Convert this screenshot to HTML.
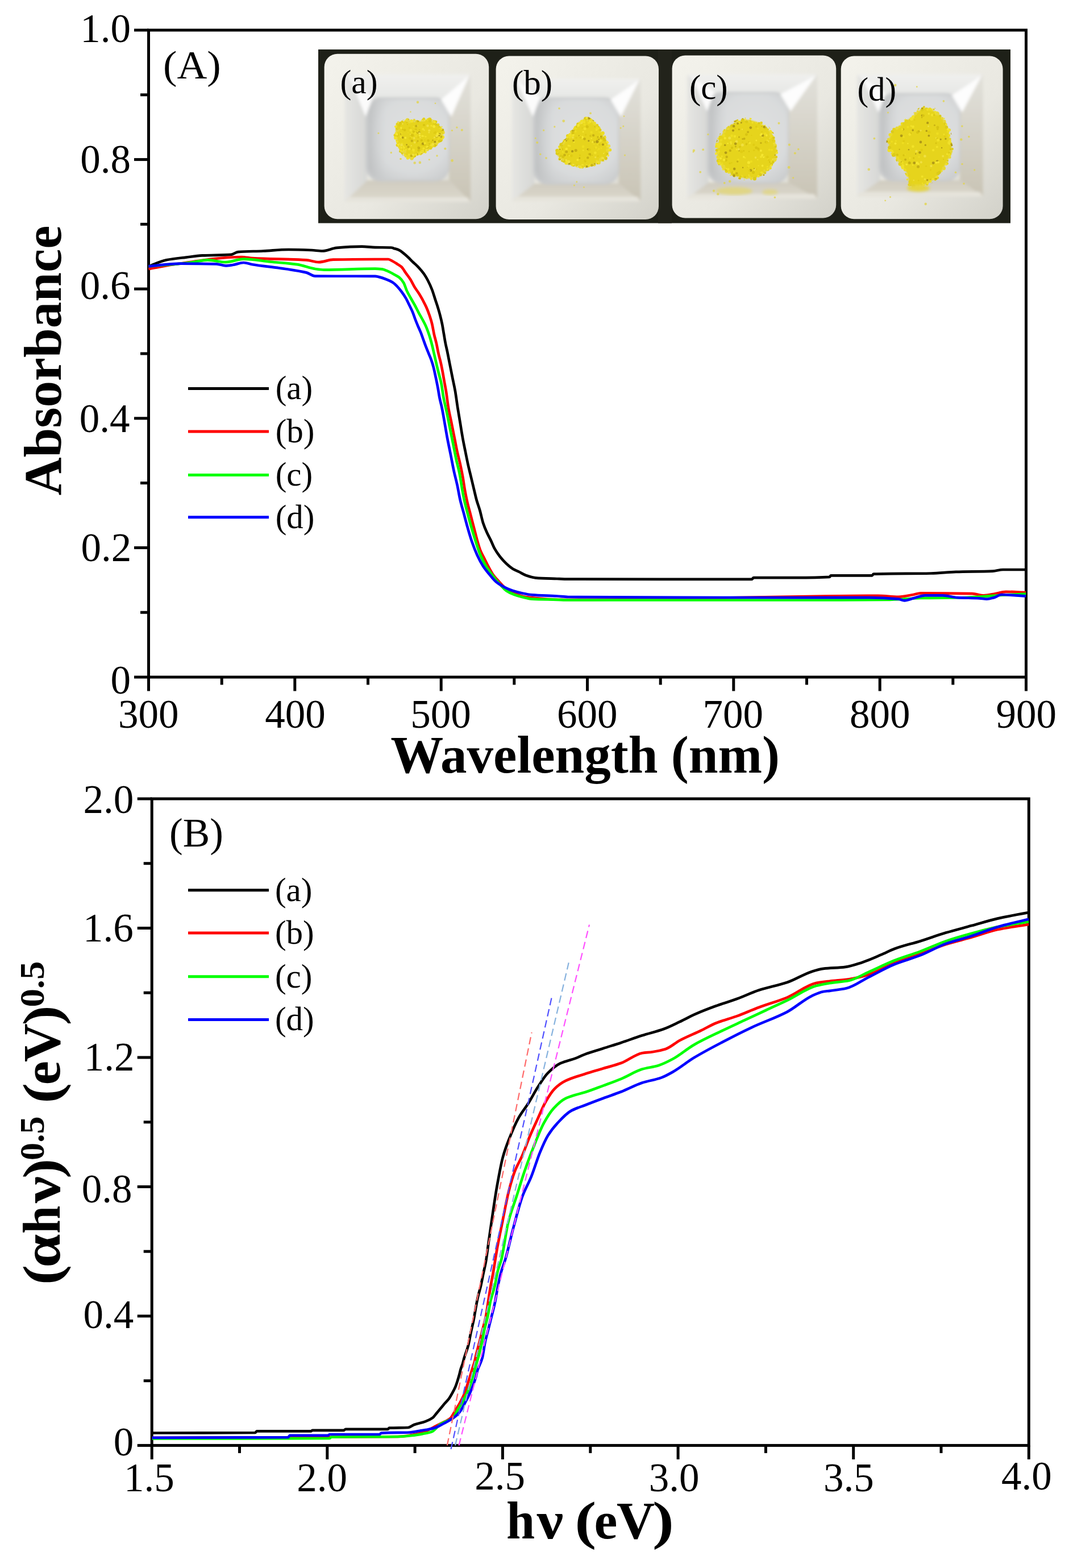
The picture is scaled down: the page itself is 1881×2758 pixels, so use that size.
<!DOCTYPE html>
<html><head><meta charset="utf-8"><style>
html,body{margin:0;padding:0;background:#fff;}
svg{display:block;}
text{font-family:"Liberation Serif","Times New Roman",serif;fill:#000;}
</style></head><body>
<svg width="1881" height="2758" viewBox="0 0 1881 2758">
<g id="photo">
<rect x="560" y="87" width="1218" height="305.5" fill="#1e2018"/>
<rect x="1158" y="87" width="24" height="305.5" fill="#22231b"/>
<defs>
<linearGradient id="rimg" x1="0" y1="0" x2="1" y2="1"><stop offset="0" stop-color="#f4f3ec"/><stop offset="0.6" stop-color="#e9e8e1"/><stop offset="1" stop-color="#d2d1c9"/></linearGradient>
<linearGradient id="lwall" x1="0" y1="0" x2="1" y2="0"><stop offset="0" stop-color="#e6e6e3"/><stop offset="1" stop-color="#d6d7d5"/></linearGradient>
<linearGradient id="rwall" x1="0" y1="0" x2="0" y2="1"><stop offset="0" stop-color="#e2e1db"/><stop offset="1" stop-color="#c9c4b5"/></linearGradient>
<linearGradient id="bwall" x1="0" y1="0" x2="0" y2="1"><stop offset="0" stop-color="#d0ccc0"/><stop offset="1" stop-color="#dcd8cc"/></linearGradient>
<linearGradient id="twall" x1="0" y1="0" x2="0" y2="1"><stop offset="0" stop-color="#f0f0ee"/><stop offset="1" stop-color="#e6e7e5"/></linearGradient>
<radialGradient id="floorg" cx="0.55" cy="0.45" r="0.65"><stop offset="0" stop-color="#dfe1e1"/><stop offset="0.7" stop-color="#d9dbdc"/><stop offset="1" stop-color="#cbcdce"/></radialGradient>
<linearGradient id="floorsh" x1="0" y1="0" x2="1" y2="0"><stop offset="0" stop-color="#b9bbbc" stop-opacity="0.7"/><stop offset="0.22" stop-color="#c8cacb" stop-opacity="0"/></linearGradient>
<filter id="blur1" x="-10%" y="-10%" width="120%" height="120%"><feGaussianBlur stdDeviation="2.5"/></filter>
<filter id="blur2" x="-10%" y="-10%" width="120%" height="120%"><feGaussianBlur stdDeviation="0.9"/></filter>
</defs>
<rect x="570.6" y="94.7" width="289.6" height="290.6" rx="23" fill="url(#rimg)"/>
<g filter="url(#blur1)"><polygon points="606.5,130.7 828,130.7 790.1,173.3 646.3,173.3" fill="url(#twall)"/><polygon points="606.5,130.7 646.3,173.3 646.3,317.1 606.5,355" fill="url(#lwall)"/><polygon points="828,130.7 828,355 790.1,317.1 790.1,173.3" fill="url(#rwall)"/><polygon points="606.5,355 646.3,317.1 790.1,317.1 828,355" fill="url(#bwall)"/><rect x="643.3" y="171.3" width="147.8" height="147.8" rx="26" fill="#c9cbcc"/><rect x="648.3" y="174.3" width="140.8" height="141.8" rx="24" fill="url(#floorg)"/><rect x="648.3" y="174.3" width="140.8" height="141.8" rx="24" fill="url(#floorsh)"/><polygon points="614.5,134.7 656.3,171.3 643.3,205.3" fill="#fbfbfb"/><polygon points="826,132.7 776.1,175.3 794.1,205.3" fill="#fdfdfd"/><polygon points="612.5,347 822,347 828,355 606.5,355" fill="#e6e4dc"/></g>
<rect x="872.6" y="98.5" width="286.4" height="287.5" rx="23" fill="url(#rimg)"/>
<g filter="url(#blur1)"><polygon points="901,138.3 1127.2,138.3 1088.4,173.3 940.7,173.3" fill="url(#twall)"/><polygon points="901,138.3 940.7,173.3 940.7,322.8 901,354" fill="url(#lwall)"/><polygon points="1127.2,138.3 1127.2,354 1088.4,322.8 1088.4,173.3" fill="url(#rwall)"/><polygon points="901,354 940.7,322.8 1088.4,322.8 1127.2,354" fill="url(#bwall)"/><rect x="937.7" y="171.3" width="151.7" height="153.5" rx="26" fill="#c9cbcc"/><rect x="942.7" y="174.3" width="144.7" height="147.5" rx="24" fill="url(#floorg)"/><rect x="942.7" y="174.3" width="144.7" height="147.5" rx="24" fill="url(#floorsh)"/><polygon points="909,142.3 950.7,171.3 937.7,205.3" fill="#fbfbfb"/><polygon points="1125.2,140.3 1074.4,175.3 1092.4,205.3" fill="#fdfdfd"/><polygon points="907,346 1121.2,346 1127.2,354 901,354" fill="#e6e4dc"/></g>
<rect x="1182.6" y="97.6" width="288.6" height="285.8" rx="23" fill="url(#rimg)"/>
<g filter="url(#blur1)"><polygon points="1209,130.7 1438,130.7 1387,163.8 1247,163.8" fill="url(#twall)"/><polygon points="1209,130.7 1247,163.8 1247,321 1209,349.3" fill="url(#lwall)"/><polygon points="1438,130.7 1438,349.3 1387,321 1387,163.8" fill="url(#rwall)"/><polygon points="1209,349.3 1247,321 1387,321 1438,349.3" fill="url(#bwall)"/><rect x="1244" y="161.8" width="144" height="161.2" rx="26" fill="#c9cbcc"/><rect x="1249" y="164.8" width="137" height="155.2" rx="24" fill="url(#floorg)"/><rect x="1249" y="164.8" width="137" height="155.2" rx="24" fill="url(#floorsh)"/><polygon points="1217,134.7 1257,161.8 1244,195.8" fill="#fbfbfb"/><polygon points="1436,132.7 1373,165.8 1391,195.8" fill="#fdfdfd"/><polygon points="1215,341.3 1432,341.3 1438,349.3 1209,349.3" fill="#e6e4dc"/></g>
<rect x="1479.7" y="98.5" width="284.9" height="286.8" rx="23" fill="url(#rimg)"/>
<g filter="url(#blur1)"><polygon points="1508,130.7 1729.6,130.7 1688.9,165.7 1548.8,165.7" fill="url(#twall)"/><polygon points="1508,130.7 1548.8,165.7 1548.8,317 1508,345.5" fill="url(#lwall)"/><polygon points="1729.6,130.7 1729.6,345.5 1688.9,317 1688.9,165.7" fill="url(#rwall)"/><polygon points="1508,345.5 1548.8,317 1688.9,317 1729.6,345.5" fill="url(#bwall)"/><rect x="1545.8" y="163.7" width="144.1" height="155.3" rx="26" fill="#c9cbcc"/><rect x="1550.8" y="166.7" width="137.1" height="149.3" rx="24" fill="url(#floorg)"/><rect x="1550.8" y="166.7" width="137.1" height="149.3" rx="24" fill="url(#floorsh)"/><polygon points="1516,134.7 1558.8,163.7 1545.8,197.7" fill="#fbfbfb"/><polygon points="1727.6,132.7 1674.9,167.7 1692.9,197.7" fill="#fdfdfd"/><polygon points="1514,337.5 1723.6,337.5 1729.6,345.5 1508,345.5" fill="#e6e4dc"/></g>
</g>
<defs><clipPath id="pc0"><path d="M696 217 C699.3 212.3 707.5 210.8 714 210 C720.5 209.2 728.7 212.3 735 212 C741.3 211.7 746.5 207.7 752 208 C757.5 208.3 763 210.7 768 214 C773 217.3 780 223 782 228 C784 233 782.3 239.3 780 244 C777.7 248.7 772.3 252.5 768 256 C763.7 259.5 759.5 262 754 265 C748.5 268 740.7 271.5 735 274 C729.3 276.5 724.5 280.2 720 280 C715.5 279.8 711.3 276.8 708 273 C704.7 269.2 702.3 262.8 700 257 C697.7 251.2 694.7 244.7 694 238 C693.3 231.3 692.7 221.7 696 217Z"/></clipPath><clipPath id="pc1"><path d="M1031 205 C1035.5 204.7 1040.5 208.2 1045 212 C1049.5 215.8 1054.2 222.5 1058 228 C1061.8 233.5 1065.2 239.3 1068 245 C1070.8 250.7 1075 256.2 1075 262 C1075 267.8 1072.2 275.3 1068 280 C1063.8 284.7 1057.2 287.3 1050 290 C1042.8 292.7 1033.3 296 1025 296 C1016.7 296 1007.2 292.7 1000 290 C992.8 287.3 985.8 283.7 982 280 C978.2 276.3 975.7 273 977 268 C978.3 263 985.3 256.3 990 250 C994.7 243.7 1000.3 236 1005 230 C1009.7 224 1013.7 218.2 1018 214 C1022.3 209.8 1026.5 205.3 1031 205Z"/></clipPath><clipPath id="pc2"><path d="M1310 207 C1318.8 206 1327.5 209 1335 212 C1342.5 215 1349.8 219.5 1355 225 C1360.2 230.5 1363.5 237.8 1366 245 C1368.5 252.2 1370.7 260.5 1370 268 C1369.3 275.5 1365.7 283.5 1362 290 C1358.3 296.5 1354.2 302.5 1348 307 C1341.8 311.5 1333 315.7 1325 317 C1317 318.3 1307.8 317 1300 315 C1292.2 313 1284.3 309.7 1278 305 C1271.7 300.3 1265.3 294.2 1262 287 C1258.7 279.8 1257.5 270.2 1258 262 C1258.5 253.8 1261 245.3 1265 238 C1269 230.7 1274.5 223.2 1282 218 C1289.5 212.8 1301.2 208 1310 207Z"/></clipPath><clipPath id="pc3"><path d="M1625 185 C1631.7 183.3 1638.8 186.7 1645 190 C1651.2 193.3 1657.5 199.2 1662 205 C1666.5 210.8 1669.7 217.5 1672 225 C1674.3 232.5 1674.8 242.8 1676 250 C1677.2 257.2 1680 262.2 1679 268 C1678 273.8 1672.8 279.7 1670 285 C1667.2 290.3 1665.3 295 1662 300 C1658.7 305 1654.5 310.8 1650 315 C1645.5 319.2 1640.8 321.5 1635 325 C1629.2 328.5 1620.8 335.2 1615 336 C1609.2 336.8 1603.3 334.3 1600 330 C1596.7 325.7 1597.5 315.8 1595 310 C1592.5 304.2 1588.3 300 1585 295 C1581.7 290 1578.8 285.5 1575 280 C1571.2 274.5 1564.5 267.8 1562 262 C1559.5 256.2 1559 250.7 1560 245 C1561 239.3 1563.8 233 1568 228 C1572.2 223 1578.8 219.7 1585 215 C1591.2 210.3 1598.3 205 1605 200 C1611.7 195 1618.3 186.7 1625 185Z"/></clipPath></defs>
<path d="M698.8 218.7 C701.9 214.3 709.5 213 715.5 212.2 C721.6 211.4 729.2 214.3 735.1 214 C741 213.7 745.8 210 750.9 210.3 C756 210.6 761.1 212.8 765.8 215.9 C770.4 219 776.9 224.3 778.8 228.9 C780.6 233.6 779.1 239.5 776.9 243.8 C774.8 248.1 769.8 251.7 765.8 255 C761.7 258.2 757.9 260.5 752.8 263.3 C747.6 266.1 740.4 269.4 735.1 271.7 C729.8 274 725.3 277.4 721.1 277.3 C716.9 277.1 713.1 274.3 710 270.8 C706.9 267.2 704.7 261.3 702.5 255.9 C700.4 250.5 697.6 244.4 697 238.2 C696.3 232 695.7 223 698.8 218.7Z" fill="#e6d41a" filter="url(#blur2)"/>
<g><circle cx="699.2" cy="218.3" r="2.6" fill="#e4d21c"/><circle cx="701.4" cy="217.6" r="2.1" fill="#e4d21c"/><circle cx="702" cy="216.5" r="1.7" fill="#f0e02a"/><circle cx="704.8" cy="217.3" r="2.7" fill="#dccb18"/><circle cx="709.4" cy="216" r="2.1" fill="#e4d21c"/><circle cx="713.5" cy="214.1" r="1.8" fill="#e4d21c"/><circle cx="717.7" cy="212.8" r="1.7" fill="#ecdc22"/><circle cx="717" cy="210.9" r="3.2" fill="#e8d836"/><circle cx="720.6" cy="214.7" r="2.2" fill="#e8d836"/><circle cx="723.9" cy="212.9" r="2.8" fill="#f0e02a"/><circle cx="728.8" cy="211.6" r="2" fill="#dccb18"/><circle cx="728.8" cy="211.2" r="2.1" fill="#e8d836"/><circle cx="733.8" cy="214" r="3.1" fill="#e4d21c"/><circle cx="735.4" cy="216.1" r="3.2" fill="#e4d21c"/><circle cx="736.9" cy="214.5" r="1.8" fill="#e4d21c"/><circle cx="744.1" cy="210.9" r="2.2" fill="#dccb18"/><circle cx="744.3" cy="212.7" r="1.9" fill="#e8d836"/><circle cx="745.8" cy="209.2" r="2.4" fill="#e4d21c"/><circle cx="751.1" cy="212.7" r="1.9" fill="#e4d21c"/><circle cx="753" cy="210.4" r="2.4" fill="#ecdc22"/><circle cx="756.1" cy="209.9" r="3.2" fill="#e4d21c"/><circle cx="756.6" cy="213" r="2.6" fill="#dccb18"/><circle cx="763.5" cy="214.3" r="3.2" fill="#e8d836"/><circle cx="766.7" cy="214.2" r="2.5" fill="#dccb18"/><circle cx="764.5" cy="216.8" r="2.4" fill="#dccb18"/><circle cx="767" cy="219.1" r="2.2" fill="#dccb18"/><circle cx="770.8" cy="219.3" r="2.4" fill="#dccb18"/><circle cx="774.6" cy="224.9" r="2.4" fill="#ecdc22"/><circle cx="772.8" cy="223.1" r="1.8" fill="#dccb18"/><circle cx="778.8" cy="228.8" r="1.9" fill="#dccb18"/><circle cx="780.1" cy="231.7" r="2.2" fill="#f0e02a"/><circle cx="780.3" cy="233.5" r="2.4" fill="#e8d836"/><circle cx="780" cy="233.7" r="2" fill="#e8d836"/><circle cx="775.3" cy="236.8" r="3.2" fill="#e8d836"/><circle cx="778.9" cy="241.2" r="3.1" fill="#f0e02a"/><circle cx="776.3" cy="245.9" r="2.9" fill="#ecdc22"/><circle cx="772.3" cy="248.3" r="3" fill="#ecdc22"/><circle cx="774.9" cy="247.2" r="2.8" fill="#e4d21c"/><circle cx="769.7" cy="249.9" r="3" fill="#f0e02a"/><circle cx="766.7" cy="252.9" r="2.4" fill="#ecdc22"/><circle cx="767.1" cy="253.6" r="3.3" fill="#e8d836"/><circle cx="764.9" cy="256" r="2.9" fill="#e4d21c"/><circle cx="760.1" cy="257.2" r="2.7" fill="#ecdc22"/><circle cx="757.3" cy="260" r="3.2" fill="#e4d21c"/><circle cx="754.1" cy="260.7" r="1.8" fill="#ecdc22"/><circle cx="753" cy="262" r="2.4" fill="#e4d21c"/><circle cx="751.9" cy="263" r="2.9" fill="#e8d836"/><circle cx="748.5" cy="267.4" r="2.3" fill="#f0e02a"/><circle cx="745.1" cy="265.5" r="3.2" fill="#dccb18"/><circle cx="743.6" cy="265.8" r="2.6" fill="#f0e02a"/><circle cx="742" cy="268.6" r="3" fill="#e8d836"/><circle cx="740.3" cy="271.5" r="1.7" fill="#f0e02a"/><circle cx="732.8" cy="270.8" r="2.2" fill="#dccb18"/><circle cx="733" cy="271.7" r="1.9" fill="#e4d21c"/><circle cx="728.7" cy="274.1" r="3.1" fill="#ecdc22"/><circle cx="725.5" cy="276.2" r="3.3" fill="#e4d21c"/><circle cx="724.5" cy="278.5" r="3.2" fill="#e8d836"/><circle cx="719" cy="275.7" r="3.1" fill="#e8d836"/><circle cx="717.3" cy="278.1" r="2.6" fill="#f0e02a"/><circle cx="718.2" cy="275.3" r="2.6" fill="#ecdc22"/><circle cx="714.1" cy="274.8" r="2.3" fill="#e8d836"/><circle cx="711.9" cy="272.9" r="1.8" fill="#f0e02a"/><circle cx="711.8" cy="267.1" r="3.3" fill="#e8d836"/><circle cx="709.5" cy="264.7" r="2.4" fill="#f0e02a"/><circle cx="704.4" cy="266.2" r="2.4" fill="#dccb18"/><circle cx="705.9" cy="262.6" r="3.4" fill="#e4d21c"/><circle cx="703.3" cy="258.4" r="3.1" fill="#e8d836"/><circle cx="702.7" cy="255.6" r="1.8" fill="#e4d21c"/><circle cx="699.4" cy="255.2" r="2.8" fill="#e4d21c"/><circle cx="701.2" cy="252.9" r="3" fill="#f0e02a"/><circle cx="700.2" cy="250" r="2.7" fill="#e4d21c"/><circle cx="698.1" cy="247.2" r="1.7" fill="#e4d21c"/><circle cx="696.2" cy="242.4" r="3.1" fill="#f0e02a"/><circle cx="699.5" cy="237" r="2.7" fill="#dccb18"/><circle cx="695" cy="237.7" r="2.5" fill="#e4d21c"/><circle cx="696.9" cy="234.7" r="2.4" fill="#f0e02a"/><circle cx="699.6" cy="228.8" r="3.2" fill="#e8d836"/><circle cx="699" cy="225.8" r="2.8" fill="#dccb18"/><circle cx="700.6" cy="224.1" r="3.1" fill="#e4d21c"/><circle cx="696.6" cy="222.7" r="2.2" fill="#f0e02a"/></g>
<g clip-path="url(#pc0)"><circle cx="741" cy="269.2" r="1.2" fill="#f0e040"/><circle cx="747.5" cy="246.3" r="1" fill="#e0cc14"/><circle cx="778.8" cy="235.8" r="1.4" fill="#f0e040"/><circle cx="702.8" cy="273.2" r="1.9" fill="#eedd20"/><circle cx="725.3" cy="277.8" r="1.3" fill="#f2e228"/><circle cx="700.6" cy="266.4" r="1" fill="#b09a18"/><circle cx="723.8" cy="274.1" r="2.2" fill="#c8b214"/><circle cx="722.6" cy="242.3" r="2.3" fill="#f2e228"/><circle cx="712.1" cy="228.8" r="2.3" fill="#d8c412"/><circle cx="773.7" cy="235.8" r="1.9" fill="#b09a18"/><circle cx="770.9" cy="262.8" r="1.2" fill="#f5e630"/><circle cx="696.4" cy="212" r="2.2" fill="#e0cc14"/><circle cx="705" cy="235.7" r="1" fill="#b09a18"/><circle cx="759" cy="221.2" r="1.7" fill="#f2e228"/><circle cx="742.5" cy="211.8" r="1.6" fill="#f0e040"/><circle cx="734.1" cy="221.4" r="1.6" fill="#f0e040"/><circle cx="737" cy="259.1" r="1.6" fill="#f5e630"/><circle cx="706.2" cy="226.2" r="1.1" fill="#f2e228"/><circle cx="707.5" cy="213.7" r="1.8" fill="#e0cc14"/><circle cx="761.5" cy="246.7" r="1.5" fill="#c8b214"/><circle cx="765.3" cy="249.5" r="2" fill="#b09a18"/><circle cx="771.1" cy="218.5" r="1.1" fill="#f2e228"/><circle cx="747.6" cy="254.5" r="1.9" fill="#d8c412"/><circle cx="706.9" cy="269.9" r="2.3" fill="#e0cc14"/><circle cx="769.5" cy="234.9" r="2.1" fill="#f5e630"/><circle cx="736" cy="241.4" r="1.7" fill="#e0cc14"/><circle cx="696.4" cy="251.9" r="1.7" fill="#e0cc14"/><circle cx="723.8" cy="256.2" r="1.2" fill="#f0e040"/><circle cx="746" cy="220" r="2.1" fill="#d8c412"/><circle cx="737.5" cy="233.4" r="2.5" fill="#b09a18"/><circle cx="707.1" cy="254.2" r="1.5" fill="#c8b214"/><circle cx="705.4" cy="241" r="2.1" fill="#f2e228"/><circle cx="727.5" cy="263.9" r="2.3" fill="#f2e228"/><circle cx="705.2" cy="279.4" r="2.5" fill="#b09a18"/><circle cx="713.5" cy="242.4" r="1.9" fill="#f5e630"/><circle cx="703.1" cy="277.1" r="2.3" fill="#b09a18"/><circle cx="721.4" cy="262" r="2.2" fill="#b09a18"/><circle cx="741.8" cy="246.9" r="2.1" fill="#d8c412"/><circle cx="757.3" cy="268.4" r="1.3" fill="#f0e040"/><circle cx="754.4" cy="266.9" r="1.6" fill="#d8c412"/><circle cx="780.9" cy="246.5" r="2.2" fill="#e0cc14"/><circle cx="700.3" cy="236.5" r="1.1" fill="#d8c412"/><circle cx="776.5" cy="240.7" r="2.1" fill="#c8b214"/><circle cx="727.8" cy="223" r="1.5" fill="#eedd20"/><circle cx="707.6" cy="242.9" r="1.6" fill="#f2e228"/><circle cx="722.7" cy="229.1" r="2.4" fill="#f2e228"/><circle cx="729.8" cy="228.4" r="1.3" fill="#f5e630"/><circle cx="772.4" cy="238.1" r="2.6" fill="#f5e630"/><circle cx="734.7" cy="271.2" r="1.1" fill="#b09a18"/><circle cx="740.8" cy="276.7" r="1.8" fill="#eedd20"/><circle cx="744.2" cy="272.7" r="1.1" fill="#f5e630"/><circle cx="760.3" cy="269.3" r="2.3" fill="#b09a18"/><circle cx="772.9" cy="240" r="1.7" fill="#f0e040"/><circle cx="755.2" cy="229.5" r="2.1" fill="#f0e040"/><circle cx="708.7" cy="242" r="1.9" fill="#b09a18"/><circle cx="720.6" cy="262" r="2.5" fill="#f2e228"/><circle cx="738.1" cy="234.5" r="2.1" fill="#f0e040"/><circle cx="720.7" cy="224.9" r="1.6" fill="#e0cc14"/><circle cx="740.7" cy="267.9" r="1.9" fill="#f2e228"/><circle cx="699.1" cy="238.2" r="2.2" fill="#e0cc14"/><circle cx="761.6" cy="210" r="1.7" fill="#f2e228"/><circle cx="738.4" cy="210.6" r="1.2" fill="#f0e040"/><circle cx="734" cy="233.3" r="1.7" fill="#c8b214"/><circle cx="716.8" cy="219.1" r="1.1" fill="#d8c412"/><circle cx="704.1" cy="259.4" r="2.5" fill="#eedd20"/><circle cx="724.8" cy="247.7" r="2.2" fill="#c8b214"/><circle cx="746.6" cy="229.2" r="1.1" fill="#f0e040"/><circle cx="752.6" cy="259.5" r="1.8" fill="#b09a18"/><circle cx="735.4" cy="213" r="1.9" fill="#c8b214"/><circle cx="719.4" cy="208.4" r="2.2" fill="#b09a18"/><circle cx="757.8" cy="211" r="2.2" fill="#e0cc14"/><circle cx="764.1" cy="233.9" r="1.2" fill="#d8c412"/><circle cx="763.6" cy="222.6" r="2.5" fill="#f5e630"/><circle cx="737.2" cy="271.1" r="1.9" fill="#eedd20"/><circle cx="737" cy="278.4" r="2.2" fill="#f5e630"/><circle cx="715.6" cy="254.6" r="1.3" fill="#b09a18"/><circle cx="772.7" cy="248.3" r="2.1" fill="#d8c412"/><circle cx="732.3" cy="221.7" r="2.2" fill="#c8b214"/><circle cx="736.3" cy="259.3" r="2.2" fill="#d8c412"/><circle cx="764.6" cy="255.3" r="2.2" fill="#e0cc14"/><circle cx="710.7" cy="259.8" r="2" fill="#f2e228"/><circle cx="747.2" cy="274.1" r="2.3" fill="#c8b214"/><circle cx="721.7" cy="243.3" r="2.5" fill="#e0cc14"/><circle cx="764.4" cy="241.8" r="1.6" fill="#f0e040"/><circle cx="738.7" cy="238.4" r="1.8" fill="#f5e630"/><circle cx="715.7" cy="215.8" r="1.1" fill="#d8c412"/><circle cx="718.4" cy="258.4" r="2.2" fill="#c8b214"/><circle cx="766" cy="233.2" r="2.4" fill="#e0cc14"/><circle cx="755.7" cy="274.5" r="2.2" fill="#f0e040"/><circle cx="750.9" cy="273.9" r="2.5" fill="#f2e228"/><circle cx="708.4" cy="217.8" r="1.4" fill="#f0e040"/><circle cx="699.8" cy="213.6" r="2" fill="#eedd20"/><circle cx="761.6" cy="254" r="2.4" fill="#f0e040"/><circle cx="755.9" cy="267.3" r="2.4" fill="#f2e228"/><circle cx="696.9" cy="272" r="1.8" fill="#eedd20"/><circle cx="759.4" cy="249.5" r="1.6" fill="#e0cc14"/><circle cx="734.9" cy="232" r="1.1" fill="#eedd20"/><circle cx="756.1" cy="271.4" r="2" fill="#f5e630"/><circle cx="776.9" cy="253.1" r="1.5" fill="#b09a18"/><circle cx="729.6" cy="227.8" r="1.2" fill="#e0cc14"/><circle cx="768.5" cy="240" r="2.3" fill="#c8b214"/><circle cx="731.9" cy="227.2" r="1.5" fill="#d8c412"/><circle cx="754" cy="256.3" r="1.1" fill="#e0cc14"/><circle cx="743.8" cy="275.3" r="1.2" fill="#eedd20"/><circle cx="725" cy="241.2" r="1.6" fill="#eedd20"/><circle cx="700.3" cy="255" r="2.3" fill="#f5e630"/><circle cx="750.9" cy="261.2" r="1.4" fill="#d8c412"/><circle cx="744.5" cy="227.2" r="2.1" fill="#f2e228"/><circle cx="768.4" cy="239" r="2.2" fill="#f0e040"/><circle cx="746.8" cy="212" r="1.5" fill="#f0e040"/><circle cx="718.8" cy="278.3" r="1.8" fill="#f2e228"/><circle cx="726.8" cy="272.2" r="1.9" fill="#f0e040"/><circle cx="776.2" cy="266.9" r="2.3" fill="#d8c412"/><circle cx="728.1" cy="231.1" r="1.4" fill="#c8b214"/><circle cx="704" cy="215.7" r="1.4" fill="#d8c412"/><circle cx="709.6" cy="257.1" r="1.3" fill="#f2e228"/><circle cx="738.2" cy="228.7" r="1.3" fill="#d8c412"/><circle cx="773.6" cy="278.3" r="2.2" fill="#f5e630"/><circle cx="708.6" cy="208.7" r="2.5" fill="#d8c412"/><circle cx="733.4" cy="250.8" r="1.8" fill="#e0cc14"/><circle cx="695.5" cy="248.1" r="1.8" fill="#f5e630"/><circle cx="707.3" cy="253" r="2.3" fill="#eedd20"/><circle cx="777.5" cy="229.6" r="1.6" fill="#e0cc14"/><circle cx="706.6" cy="255" r="2.4" fill="#f0e040"/><circle cx="732.1" cy="271.7" r="2" fill="#f2e228"/><circle cx="696.7" cy="274.7" r="1.9" fill="#eedd20"/><circle cx="729.7" cy="250.6" r="2" fill="#f0e040"/><circle cx="727.5" cy="232.6" r="1.4" fill="#f2e228"/><circle cx="770.4" cy="268.1" r="1" fill="#e0cc14"/><circle cx="695.2" cy="222.7" r="1.4" fill="#f5e630"/><circle cx="737.1" cy="260.6" r="2.3" fill="#c8b214"/><circle cx="755.5" cy="253.1" r="1.3" fill="#d8c412"/><circle cx="754.9" cy="233.1" r="1.5" fill="#f0e040"/><circle cx="727.8" cy="266.5" r="1.8" fill="#eedd20"/><circle cx="752.5" cy="221.2" r="2.2" fill="#f0e040"/><circle cx="719.7" cy="271.7" r="1.8" fill="#f2e228"/><circle cx="725.7" cy="213.6" r="1.8" fill="#f2e228"/><circle cx="703.8" cy="269.1" r="1.9" fill="#e0cc14"/><circle cx="705.3" cy="265.2" r="2.1" fill="#f2e228"/><circle cx="700.7" cy="276.5" r="2.4" fill="#f2e228"/><circle cx="730.4" cy="234.6" r="2.5" fill="#eedd20"/><circle cx="728" cy="274.2" r="1" fill="#f2e228"/><circle cx="735" cy="248" r="1.6" fill="#c8b214"/><circle cx="767.2" cy="256.2" r="1.1" fill="#c8b214"/><circle cx="745.3" cy="255.7" r="1.5" fill="#e0cc14"/><circle cx="707.9" cy="273.7" r="1.2" fill="#c8b214"/><circle cx="713.5" cy="211.8" r="1.5" fill="#f2e228"/><circle cx="779" cy="228.5" r="2.2" fill="#c8b214"/><circle cx="698.7" cy="249.3" r="2.4" fill="#f2e228"/><circle cx="718" cy="233.5" r="1" fill="#eedd20"/><circle cx="741.9" cy="271.6" r="1.6" fill="#b09a18"/><circle cx="749" cy="240.3" r="1.5" fill="#f2e228"/><circle cx="774.6" cy="255.7" r="1.5" fill="#d8c412"/><circle cx="725" cy="233" r="2" fill="#eedd20"/><circle cx="730.5" cy="275.2" r="1.7" fill="#d8c412"/><circle cx="727.7" cy="231.8" r="2.1" fill="#d8c412"/><circle cx="745.7" cy="239.5" r="1" fill="#f5e630"/><circle cx="714.3" cy="263.4" r="1.3" fill="#f2e228"/><circle cx="778.7" cy="234.1" r="1.2" fill="#e0cc14"/><circle cx="759" cy="255.5" r="2" fill="#f2e228"/><circle cx="778.1" cy="213.6" r="1.7" fill="#f5e630"/><circle cx="743.2" cy="239.3" r="1.8" fill="#f5e630"/><circle cx="781.6" cy="247" r="2.4" fill="#d8c412"/><circle cx="744.1" cy="252.9" r="2.4" fill="#b09a18"/><circle cx="750.9" cy="277.1" r="1.5" fill="#f5e630"/><circle cx="720.3" cy="224.8" r="1.7" fill="#e0cc14"/><circle cx="736.5" cy="264.3" r="2.2" fill="#d8c412"/><circle cx="732.1" cy="239.3" r="1.7" fill="#eedd20"/><circle cx="706.5" cy="234.2" r="1.2" fill="#eedd20"/><circle cx="752.5" cy="277.7" r="2" fill="#b09a18"/><circle cx="771.8" cy="243.4" r="2.1" fill="#eedd20"/><circle cx="698.4" cy="236.3" r="2.1" fill="#f5e630"/><circle cx="706.7" cy="260.2" r="1.4" fill="#f5e630"/><circle cx="699.3" cy="265" r="2.1" fill="#b09a18"/><circle cx="751.7" cy="258.6" r="2.2" fill="#f5e630"/><circle cx="774.4" cy="238.5" r="1.1" fill="#d8c412"/><circle cx="772.8" cy="238.4" r="1.5" fill="#b09a18"/><circle cx="766.3" cy="276.7" r="1.3" fill="#e0cc14"/><circle cx="752.6" cy="260.2" r="1.1" fill="#e0cc14"/><circle cx="776.8" cy="227.6" r="1.5" fill="#eedd20"/><circle cx="740.1" cy="275.2" r="2" fill="#f2e228"/><circle cx="753.5" cy="247.2" r="2.2" fill="#d8c412"/><circle cx="728.7" cy="243" r="1.9" fill="#f0e040"/><circle cx="725.5" cy="237.9" r="2.6" fill="#d8c412"/><circle cx="721.9" cy="236.3" r="1" fill="#f0e040"/><circle cx="734.9" cy="272.8" r="1.1" fill="#d8c412"/><circle cx="697" cy="250.7" r="1.1" fill="#f5e630"/><circle cx="741.7" cy="254.5" r="1.3" fill="#d8c412"/><circle cx="747.6" cy="252" r="2.2" fill="#f2e228"/><circle cx="739.5" cy="241.7" r="1.2" fill="#f0e040"/><circle cx="750.5" cy="263.5" r="2" fill="#f0e040"/><circle cx="702.8" cy="220.4" r="2.2" fill="#e0cc14"/><circle cx="705.8" cy="225" r="1.7" fill="#f5e630"/><circle cx="764.7" cy="214.8" r="2.3" fill="#f2e228"/><circle cx="702.9" cy="268.1" r="1.1" fill="#d8c412"/><circle cx="760" cy="270.4" r="1.2" fill="#f5e630"/><circle cx="777.7" cy="249.5" r="2.4" fill="#c8b214"/><circle cx="708.5" cy="227.8" r="1.3" fill="#d8c412"/><circle cx="778.2" cy="222.4" r="1.7" fill="#f0e040"/><circle cx="745.3" cy="261.4" r="2.1" fill="#f2e228"/></g>
<circle cx="704.6" cy="279.4" r="1.5" fill="#e2d44a" opacity="0.8"/>
<circle cx="795.4" cy="229.5" r="1.6" fill="#e2d44a" opacity="0.8"/>
<circle cx="783.3" cy="261.5" r="2.1" fill="#e2d44a" opacity="0.8"/>
<circle cx="769" cy="274" r="1.7" fill="#e2d44a" opacity="0.8"/>
<circle cx="729.7" cy="286.5" r="2.3" fill="#e2d44a" opacity="0.8"/>
<circle cx="705.2" cy="279.6" r="1.7" fill="#e2d44a" opacity="0.8"/>
<circle cx="665.9" cy="234.2" r="1.5" fill="#e2d44a" opacity="0.8"/>
<circle cx="803.9" cy="224.2" r="1.6" fill="#e2d44a" opacity="0.8"/>
<circle cx="722.4" cy="196.7" r="1.2" fill="#e2d44a" opacity="0.8"/>
<circle cx="735" cy="179.8" r="2.2" fill="#e2d44a" opacity="0.8"/>
<circle cx="738.9" cy="285.9" r="2.3" fill="#e2d44a" opacity="0.8"/>
<circle cx="755.3" cy="280.8" r="1.5" fill="#e2d44a" opacity="0.8"/>
<circle cx="795.6" cy="282.4" r="2.3" fill="#e2d44a" opacity="0.8"/>
<circle cx="766" cy="181.8" r="1.3" fill="#e2d44a" opacity="0.8"/>
<circle cx="812.8" cy="228.7" r="2" fill="#e2d44a" opacity="0.8"/>
<circle cx="688.3" cy="268.5" r="1.7" fill="#e2d44a" opacity="0.8"/>
<path d="M1030.8 208.4 C1035 208.1 1039.6 211.3 1043.8 214.9 C1048 218.5 1052.3 224.7 1055.9 229.8 C1059.5 234.9 1062.6 240.3 1065.2 245.6 C1067.8 250.9 1071.7 256 1071.7 261.4 C1071.7 266.8 1069.1 273.8 1065.2 278.1 C1061.3 282.5 1055.1 285 1048.5 287.4 C1041.8 289.9 1033 293 1025.2 293 C1017.5 293 1008.6 289.9 1002 287.4 C995.3 285 988.8 281.6 985.2 278.1 C981.7 274.7 979.3 271.6 980.6 267 C981.8 262.3 988.3 256.1 992.7 250.2 C997 244.4 1002.3 237.2 1006.6 231.7 C1011 226.1 1014.7 220.6 1018.7 216.8 C1022.7 212.9 1026.6 208.7 1030.8 208.4Z" fill="#e6d41a" filter="url(#blur2)"/>
<g><circle cx="1030.6" cy="208.7" r="3.3" fill="#dccb18"/><circle cx="1033.5" cy="211.6" r="1.9" fill="#e8d836"/><circle cx="1036.6" cy="211.9" r="1.9" fill="#dccb18"/><circle cx="1038.6" cy="210.8" r="3.1" fill="#ecdc22"/><circle cx="1043" cy="213.8" r="2.4" fill="#e8d836"/><circle cx="1045.8" cy="217" r="3.1" fill="#ecdc22"/><circle cx="1044.9" cy="217.4" r="2" fill="#ecdc22"/><circle cx="1050.5" cy="220.6" r="2.7" fill="#e4d21c"/><circle cx="1051.3" cy="224.7" r="2.5" fill="#ecdc22"/><circle cx="1053.1" cy="225.5" r="3.4" fill="#ecdc22"/><circle cx="1056.4" cy="228.2" r="2" fill="#f0e02a"/><circle cx="1054.8" cy="232.2" r="1.8" fill="#ecdc22"/><circle cx="1060.5" cy="234.2" r="3.3" fill="#ecdc22"/><circle cx="1059" cy="239.7" r="1.7" fill="#dccb18"/><circle cx="1064.5" cy="239.9" r="1.7" fill="#e4d21c"/><circle cx="1065.2" cy="242.1" r="1.8" fill="#f0e02a"/><circle cx="1063" cy="245.7" r="3.3" fill="#e4d21c"/><circle cx="1065.4" cy="247.2" r="1.7" fill="#dccb18"/><circle cx="1066.3" cy="252.5" r="2.4" fill="#e4d21c"/><circle cx="1071.6" cy="256.6" r="2.4" fill="#dccb18"/><circle cx="1068.5" cy="257.9" r="2" fill="#f0e02a"/><circle cx="1073.5" cy="263.7" r="2.7" fill="#ecdc22"/><circle cx="1069.1" cy="263.9" r="3.1" fill="#e8d836"/><circle cx="1067.4" cy="269.9" r="2" fill="#f0e02a"/><circle cx="1065.7" cy="271.1" r="3.1" fill="#dccb18"/><circle cx="1064.8" cy="271.5" r="2.6" fill="#e4d21c"/><circle cx="1063.4" cy="276" r="2.7" fill="#e4d21c"/><circle cx="1066" cy="278.9" r="2.6" fill="#dccb18"/><circle cx="1059.3" cy="278.8" r="3.2" fill="#e8d836"/><circle cx="1056.7" cy="280.6" r="2.9" fill="#e8d836"/><circle cx="1053.6" cy="286" r="3.2" fill="#e8d836"/><circle cx="1050.1" cy="283.1" r="1.8" fill="#e8d836"/><circle cx="1051.7" cy="285.6" r="2.9" fill="#f0e02a"/><circle cx="1045.9" cy="290" r="2.5" fill="#e8d836"/><circle cx="1041.4" cy="289.8" r="1.7" fill="#e4d21c"/><circle cx="1039.8" cy="290.3" r="2.7" fill="#ecdc22"/><circle cx="1035.6" cy="292.4" r="2" fill="#ecdc22"/><circle cx="1031.3" cy="290.6" r="2" fill="#ecdc22"/><circle cx="1028.7" cy="291.2" r="2.6" fill="#e4d21c"/><circle cx="1025" cy="290.8" r="2.4" fill="#f0e02a"/><circle cx="1024.7" cy="293.7" r="2.7" fill="#e4d21c"/><circle cx="1021.1" cy="294.1" r="2.5" fill="#f0e02a"/><circle cx="1018.5" cy="293.5" r="1.6" fill="#ecdc22"/><circle cx="1014.2" cy="291.6" r="2.2" fill="#ecdc22"/><circle cx="1009" cy="289.9" r="2.9" fill="#e4d21c"/><circle cx="1009.4" cy="290.9" r="2.2" fill="#dccb18"/><circle cx="1006.7" cy="290" r="2.4" fill="#ecdc22"/><circle cx="1003.4" cy="287.6" r="2.7" fill="#dccb18"/><circle cx="998.1" cy="283.2" r="1.7" fill="#ecdc22"/><circle cx="996.5" cy="286.5" r="3.2" fill="#f0e02a"/><circle cx="992.4" cy="283.6" r="2.6" fill="#dccb18"/><circle cx="989.9" cy="281" r="2.5" fill="#e8d836"/><circle cx="984.8" cy="279.7" r="2.5" fill="#e4d21c"/><circle cx="987.1" cy="275.2" r="3" fill="#dccb18"/><circle cx="982.3" cy="271.7" r="2.1" fill="#e8d836"/><circle cx="980.8" cy="269.4" r="3.2" fill="#dccb18"/><circle cx="981" cy="266.8" r="2.3" fill="#f0e02a"/><circle cx="980.3" cy="264.9" r="3.1" fill="#e4d21c"/><circle cx="985.6" cy="262" r="2.6" fill="#f0e02a"/><circle cx="984.2" cy="258.1" r="2.2" fill="#ecdc22"/><circle cx="988.7" cy="259.5" r="2.1" fill="#e4d21c"/><circle cx="987.6" cy="254.5" r="3.3" fill="#dccb18"/><circle cx="990.9" cy="252" r="2.8" fill="#e8d836"/><circle cx="993.2" cy="247.2" r="1.7" fill="#e8d836"/><circle cx="993.1" cy="247.7" r="2.6" fill="#f0e02a"/><circle cx="998.1" cy="244.3" r="2.8" fill="#dccb18"/><circle cx="999.1" cy="239" r="3.1" fill="#e4d21c"/><circle cx="1002.7" cy="240.2" r="3.4" fill="#ecdc22"/><circle cx="1003" cy="236.8" r="2.8" fill="#f0e02a"/><circle cx="1007.5" cy="234.4" r="2" fill="#dccb18"/><circle cx="1006" cy="232" r="3" fill="#e8d836"/><circle cx="1010.4" cy="226.7" r="2.1" fill="#f0e02a"/><circle cx="1011.6" cy="228" r="2.5" fill="#e4d21c"/><circle cx="1012.9" cy="224.7" r="3.2" fill="#ecdc22"/><circle cx="1015.1" cy="222.6" r="2.3" fill="#dccb18"/><circle cx="1017.4" cy="218.7" r="3.2" fill="#dccb18"/><circle cx="1020.2" cy="216.7" r="2.5" fill="#f0e02a"/><circle cx="1022.5" cy="214.8" r="2" fill="#ecdc22"/><circle cx="1023.9" cy="214.1" r="3.4" fill="#f0e02a"/><circle cx="1028.3" cy="211.7" r="2.2" fill="#ecdc22"/></g>
<g clip-path="url(#pc1)"><circle cx="1011.2" cy="212.5" r="1.7" fill="#b09a18"/><circle cx="1052.3" cy="249.4" r="1" fill="#f5e630"/><circle cx="1019" cy="208.2" r="1.9" fill="#e0cc14"/><circle cx="1023.1" cy="296" r="2.4" fill="#f0e040"/><circle cx="1069.7" cy="249.8" r="2.5" fill="#f5e630"/><circle cx="1051.3" cy="245" r="1.9" fill="#e0cc14"/><circle cx="1028.2" cy="281.8" r="1.9" fill="#eedd20"/><circle cx="1042.8" cy="291.9" r="2.4" fill="#d8c412"/><circle cx="1006.8" cy="217.8" r="1.9" fill="#eedd20"/><circle cx="1033.2" cy="223.3" r="1.9" fill="#f2e228"/><circle cx="1036.3" cy="207.5" r="2.6" fill="#b09a18"/><circle cx="1030.3" cy="295" r="1.2" fill="#f5e630"/><circle cx="1044.7" cy="211" r="1.9" fill="#b09a18"/><circle cx="1067.2" cy="277.8" r="1.6" fill="#d8c412"/><circle cx="1023.4" cy="216.6" r="1.7" fill="#f0e040"/><circle cx="1028.4" cy="214.9" r="1.7" fill="#f2e228"/><circle cx="1067.7" cy="216.8" r="2.2" fill="#f2e228"/><circle cx="980.5" cy="219.2" r="1" fill="#eedd20"/><circle cx="1008.6" cy="237.3" r="2" fill="#f5e630"/><circle cx="1026" cy="258" r="2.4" fill="#eedd20"/><circle cx="1047.3" cy="268.8" r="2.4" fill="#f2e228"/><circle cx="1013.8" cy="242.6" r="1.8" fill="#e0cc14"/><circle cx="1029.7" cy="283.6" r="1.9" fill="#d8c412"/><circle cx="1028.9" cy="282.5" r="2" fill="#e0cc14"/><circle cx="999.8" cy="272.4" r="2.3" fill="#e0cc14"/><circle cx="1008" cy="233.7" r="2.5" fill="#d8c412"/><circle cx="1053.3" cy="222.7" r="1.2" fill="#d8c412"/><circle cx="990" cy="213" r="1.6" fill="#b09a18"/><circle cx="1058.6" cy="243.4" r="2.3" fill="#e0cc14"/><circle cx="996.7" cy="262.1" r="2.3" fill="#f5e630"/><circle cx="996.7" cy="267.1" r="2.5" fill="#c8b214"/><circle cx="988.3" cy="251" r="2.2" fill="#d8c412"/><circle cx="1055.7" cy="248.9" r="1" fill="#f0e040"/><circle cx="991.4" cy="221.8" r="1.3" fill="#e0cc14"/><circle cx="1074" cy="289.3" r="1.2" fill="#f2e228"/><circle cx="990.2" cy="267" r="1.1" fill="#f5e630"/><circle cx="1009" cy="247.5" r="1.8" fill="#b09a18"/><circle cx="997.6" cy="239" r="2" fill="#f2e228"/><circle cx="1059.7" cy="221.5" r="1.7" fill="#c8b214"/><circle cx="1016.7" cy="222.8" r="1.3" fill="#f2e228"/><circle cx="1008.7" cy="212.7" r="2.3" fill="#b09a18"/><circle cx="1032.8" cy="222.4" r="1.9" fill="#c8b214"/><circle cx="1055.9" cy="228.5" r="2.5" fill="#e0cc14"/><circle cx="1056.8" cy="241.9" r="2.4" fill="#c8b214"/><circle cx="1052.2" cy="274.6" r="1.6" fill="#e0cc14"/><circle cx="983.9" cy="236.1" r="1.8" fill="#f2e228"/><circle cx="1064" cy="295.1" r="2.4" fill="#f2e228"/><circle cx="999.7" cy="291" r="2.1" fill="#c8b214"/><circle cx="998.2" cy="242" r="1.3" fill="#f5e630"/><circle cx="1015.2" cy="296" r="2" fill="#f5e630"/><circle cx="1051.7" cy="294.2" r="1" fill="#f5e630"/><circle cx="1049.4" cy="228.4" r="1.6" fill="#f2e228"/><circle cx="1051.6" cy="264" r="1" fill="#eedd20"/><circle cx="1001.6" cy="287.4" r="1.9" fill="#b09a18"/><circle cx="1071.8" cy="256.7" r="2.6" fill="#f0e040"/><circle cx="1056.3" cy="211.9" r="2" fill="#f2e228"/><circle cx="1014.9" cy="290.4" r="1.6" fill="#e0cc14"/><circle cx="1060.9" cy="254.3" r="2" fill="#b09a18"/><circle cx="1069.6" cy="243.3" r="1.8" fill="#eedd20"/><circle cx="1012.8" cy="231" r="2" fill="#eedd20"/><circle cx="1042" cy="273" r="1" fill="#d8c412"/><circle cx="1034.4" cy="262.6" r="1.7" fill="#b09a18"/><circle cx="982.2" cy="233.7" r="1.6" fill="#c8b214"/><circle cx="984.2" cy="287.4" r="1.7" fill="#f0e040"/><circle cx="1001.6" cy="273.8" r="1.1" fill="#f5e630"/><circle cx="1068.9" cy="270.8" r="1.7" fill="#d8c412"/><circle cx="1036.2" cy="215.5" r="2" fill="#f0e040"/><circle cx="988.6" cy="283.4" r="1.6" fill="#e0cc14"/><circle cx="989.2" cy="245.3" r="2.1" fill="#f0e040"/><circle cx="1035.9" cy="263.2" r="2.1" fill="#c8b214"/><circle cx="1053.2" cy="253.3" r="2.6" fill="#eedd20"/><circle cx="1049" cy="226.7" r="1.2" fill="#eedd20"/><circle cx="1053.9" cy="261.9" r="1.6" fill="#eedd20"/><circle cx="1036.8" cy="271" r="2.1" fill="#d8c412"/><circle cx="1039" cy="273.6" r="1.3" fill="#d8c412"/><circle cx="1026.2" cy="264.4" r="1.3" fill="#f2e228"/><circle cx="1038.6" cy="205.9" r="1.4" fill="#f2e228"/><circle cx="1038.1" cy="214.3" r="1.9" fill="#f5e630"/><circle cx="1051.1" cy="288.1" r="1.3" fill="#d8c412"/><circle cx="1038.8" cy="239" r="1.8" fill="#d8c412"/><circle cx="1010.1" cy="250" r="1.2" fill="#f5e630"/><circle cx="1055.6" cy="245.7" r="2.3" fill="#d8c412"/><circle cx="1020.5" cy="273" r="1.6" fill="#e0cc14"/><circle cx="1013.2" cy="264.5" r="2.6" fill="#c8b214"/><circle cx="1005.5" cy="274.1" r="2.3" fill="#e0cc14"/><circle cx="1018.9" cy="238.6" r="1.2" fill="#c8b214"/><circle cx="984.7" cy="212.6" r="1.9" fill="#f0e040"/><circle cx="1056.9" cy="247.2" r="2.3" fill="#f2e228"/><circle cx="984.5" cy="224.4" r="2.1" fill="#f5e630"/><circle cx="1045.1" cy="250" r="2.2" fill="#c8b214"/><circle cx="1004.7" cy="218" r="1.6" fill="#c8b214"/><circle cx="1012.9" cy="215.7" r="2.1" fill="#eedd20"/><circle cx="1019.9" cy="278.1" r="1.5" fill="#c8b214"/><circle cx="998.7" cy="293.1" r="2.2" fill="#d8c412"/><circle cx="985.3" cy="280.4" r="1" fill="#b09a18"/><circle cx="1034.3" cy="277.4" r="2.2" fill="#c8b214"/><circle cx="1055.1" cy="254.2" r="2.3" fill="#e0cc14"/><circle cx="994.3" cy="274.1" r="2.4" fill="#eedd20"/><circle cx="1056.6" cy="225.1" r="1.1" fill="#e0cc14"/><circle cx="1032.6" cy="292.9" r="2" fill="#b09a18"/><circle cx="983.3" cy="254.8" r="2.3" fill="#f5e630"/><circle cx="1009.8" cy="229.9" r="1.2" fill="#c8b214"/><circle cx="985.3" cy="262.7" r="1.2" fill="#b09a18"/><circle cx="1001.1" cy="225.1" r="2.2" fill="#c8b214"/><circle cx="1051.9" cy="240.9" r="1.5" fill="#c8b214"/><circle cx="1042.9" cy="249.9" r="1.9" fill="#f5e630"/><circle cx="1046.4" cy="288.3" r="1.7" fill="#c8b214"/><circle cx="1060.6" cy="278.3" r="2.3" fill="#f0e040"/><circle cx="1070.9" cy="263.3" r="1.8" fill="#f2e228"/><circle cx="1055.6" cy="243.4" r="1.7" fill="#e0cc14"/><circle cx="1001.1" cy="219.8" r="2" fill="#e0cc14"/><circle cx="1008.4" cy="240.4" r="1.8" fill="#eedd20"/><circle cx="1072" cy="210.4" r="1.5" fill="#f5e630"/><circle cx="1006.7" cy="219.2" r="2.5" fill="#f2e228"/><circle cx="1050.8" cy="206.6" r="1.8" fill="#f2e228"/><circle cx="1007.6" cy="223" r="1.6" fill="#d8c412"/><circle cx="1035.8" cy="247.9" r="1.8" fill="#f0e040"/><circle cx="995.1" cy="230.6" r="1.3" fill="#eedd20"/><circle cx="1038.4" cy="290.7" r="1.9" fill="#eedd20"/><circle cx="1024.5" cy="241.6" r="2.5" fill="#f5e630"/><circle cx="1024.3" cy="225.1" r="1.1" fill="#e0cc14"/><circle cx="1055.5" cy="240" r="1.8" fill="#eedd20"/><circle cx="1054.2" cy="210.3" r="2.5" fill="#f2e228"/><circle cx="1062.7" cy="287.4" r="1.7" fill="#d8c412"/><circle cx="1046.9" cy="260.2" r="1.3" fill="#e0cc14"/><circle cx="1052.6" cy="218.2" r="2.5" fill="#e0cc14"/><circle cx="1039.4" cy="295.4" r="1.4" fill="#f2e228"/><circle cx="991.8" cy="275.1" r="1" fill="#e0cc14"/><circle cx="1057.6" cy="212.5" r="1.4" fill="#f5e630"/><circle cx="1064.2" cy="268.1" r="1.1" fill="#eedd20"/><circle cx="978.9" cy="222.1" r="1.3" fill="#f5e630"/><circle cx="1053.6" cy="245.1" r="1.1" fill="#b09a18"/><circle cx="1028.5" cy="219.3" r="2.3" fill="#eedd20"/><circle cx="1008" cy="241.9" r="1.9" fill="#f0e040"/><circle cx="1042.4" cy="211.1" r="1.1" fill="#e0cc14"/><circle cx="987.4" cy="240.9" r="1.7" fill="#f5e630"/><circle cx="1041.1" cy="206.1" r="1.6" fill="#f0e040"/><circle cx="1000.3" cy="256.3" r="1.7" fill="#f2e228"/><circle cx="1060.9" cy="281.9" r="2.2" fill="#e0cc14"/><circle cx="1005.5" cy="239.2" r="1.9" fill="#eedd20"/><circle cx="1070.5" cy="273.7" r="1.9" fill="#f5e630"/><circle cx="1002.1" cy="223.2" r="2.2" fill="#c8b214"/><circle cx="1007.4" cy="229.9" r="1.8" fill="#c8b214"/><circle cx="1020.8" cy="239.8" r="1.2" fill="#f5e630"/><circle cx="989.9" cy="262.4" r="1.3" fill="#d8c412"/><circle cx="1016.4" cy="281.2" r="1.9" fill="#f5e630"/><circle cx="986.8" cy="207.9" r="2.6" fill="#b09a18"/><circle cx="1016.9" cy="211.6" r="2.5" fill="#b09a18"/><circle cx="1067.8" cy="217.7" r="1.3" fill="#e0cc14"/><circle cx="1057.5" cy="240.1" r="1.5" fill="#b09a18"/><circle cx="1038.1" cy="271.2" r="2" fill="#c8b214"/><circle cx="1073.2" cy="276.9" r="2.1" fill="#f2e228"/><circle cx="1002.6" cy="222.2" r="1.5" fill="#f0e040"/><circle cx="987.4" cy="239.4" r="1.8" fill="#eedd20"/><circle cx="1057.9" cy="260.6" r="1.3" fill="#eedd20"/><circle cx="1030.7" cy="237.1" r="1.8" fill="#e0cc14"/><circle cx="1033.3" cy="223" r="2.5" fill="#d8c412"/><circle cx="1032.6" cy="207.4" r="2.1" fill="#f5e630"/><circle cx="990.4" cy="248.5" r="1.7" fill="#c8b214"/><circle cx="1009.3" cy="289.5" r="1.6" fill="#f0e040"/><circle cx="1063.5" cy="246.2" r="2.2" fill="#d8c412"/><circle cx="1065.6" cy="254.5" r="1.9" fill="#eedd20"/><circle cx="993.5" cy="272.9" r="2.4" fill="#c8b214"/><circle cx="1035.9" cy="216.2" r="2.3" fill="#eedd20"/><circle cx="1044.1" cy="238.1" r="2.2" fill="#c8b214"/><circle cx="1058.4" cy="221.9" r="1.9" fill="#f5e630"/><circle cx="1021.5" cy="241.7" r="2.3" fill="#e0cc14"/><circle cx="1007.1" cy="266.1" r="2.2" fill="#b09a18"/><circle cx="1037.3" cy="263.3" r="2.2" fill="#e0cc14"/><circle cx="996.6" cy="247.6" r="1.2" fill="#b09a18"/><circle cx="988.6" cy="241.9" r="1.5" fill="#e0cc14"/><circle cx="1002.8" cy="256.7" r="1.5" fill="#f2e228"/><circle cx="1047.7" cy="276.7" r="1.6" fill="#f0e040"/><circle cx="1035.8" cy="247.8" r="1.7" fill="#b09a18"/><circle cx="1050.7" cy="249.2" r="2.6" fill="#b09a18"/><circle cx="1057.9" cy="215.7" r="1.2" fill="#c8b214"/><circle cx="1028.5" cy="244.3" r="2.4" fill="#c8b214"/><circle cx="1065.9" cy="231.9" r="2" fill="#b09a18"/><circle cx="1048.7" cy="259.4" r="2.2" fill="#eedd20"/><circle cx="1063.5" cy="284.8" r="1.4" fill="#f0e040"/><circle cx="1000.7" cy="284.4" r="2.6" fill="#f0e040"/><circle cx="1045.1" cy="252.9" r="1.4" fill="#eedd20"/><circle cx="1041.4" cy="290.6" r="2.4" fill="#c8b214"/><circle cx="1061.9" cy="243.3" r="2.3" fill="#d8c412"/><circle cx="1040.7" cy="243.4" r="1.2" fill="#f5e630"/><circle cx="986.7" cy="277.1" r="1.2" fill="#f0e040"/><circle cx="977.1" cy="227.2" r="1.5" fill="#c8b214"/><circle cx="993.9" cy="245.1" r="1.7" fill="#b09a18"/><circle cx="990.8" cy="268" r="1.4" fill="#eedd20"/><circle cx="980.1" cy="286.8" r="1.5" fill="#f0e040"/><circle cx="991" cy="275.7" r="2.2" fill="#d8c412"/><circle cx="996.9" cy="283.2" r="2.1" fill="#f2e228"/><circle cx="996.2" cy="281.3" r="1.6" fill="#f0e040"/><circle cx="978.6" cy="262.8" r="2.1" fill="#d8c412"/><circle cx="1029.2" cy="226.5" r="2.5" fill="#f2e228"/><circle cx="1040.7" cy="232.9" r="2.3" fill="#eedd20"/><circle cx="1062.2" cy="269.9" r="1.2" fill="#f0e040"/><circle cx="1017.7" cy="220.4" r="2.4" fill="#f5e630"/><circle cx="1046.6" cy="222.9" r="1.3" fill="#d8c412"/><circle cx="1026.1" cy="231.9" r="1.4" fill="#f5e630"/></g>
<circle cx="975.8" cy="222.9" r="1.6" fill="#e2d44a" opacity="0.8"/>
<circle cx="1096.8" cy="221.9" r="1.5" fill="#e2d44a" opacity="0.8"/>
<circle cx="991.7" cy="212.8" r="2.4" fill="#e2d44a" opacity="0.8"/>
<circle cx="961" cy="278.1" r="1.8" fill="#e2d44a" opacity="0.8"/>
<circle cx="1099.5" cy="273" r="1.5" fill="#e2d44a" opacity="0.8"/>
<circle cx="1027.5" cy="329.2" r="1.3" fill="#e2d44a" opacity="0.8"/>
<circle cx="1010.5" cy="325.9" r="1.5" fill="#e2d44a" opacity="0.8"/>
<circle cx="1014.8" cy="320" r="1.4" fill="#e2d44a" opacity="0.8"/>
<circle cx="1098" cy="204.4" r="1.2" fill="#e2d44a" opacity="0.8"/>
<circle cx="950.7" cy="271.2" r="1.7" fill="#e2d44a" opacity="0.8"/>
<circle cx="1092.1" cy="225.2" r="1.4" fill="#e2d44a" opacity="0.8"/>
<circle cx="956.6" cy="229.2" r="1.6" fill="#e2d44a" opacity="0.8"/>
<circle cx="984" cy="190.7" r="1.8" fill="#e2d44a" opacity="0.8"/>
<circle cx="945.2" cy="250.8" r="2" fill="#e2d44a" opacity="0.8"/>
<circle cx="942.2" cy="243.2" r="1.4" fill="#e2d44a" opacity="0.8"/>
<circle cx="1039" cy="199.2" r="1.9" fill="#e2d44a" opacity="0.8"/>
<path d="M1310.4 211 C1318.6 210.1 1326.7 212.8 1333.6 215.6 C1340.6 218.4 1347.4 222.6 1352.2 227.7 C1357 232.8 1360.1 239.7 1362.5 246.3 C1364.8 253 1366.8 260.7 1366.2 267.7 C1365.6 274.7 1362.2 282.1 1358.7 288.2 C1355.3 294.2 1351.5 299.8 1345.7 304 C1340 308.2 1331.8 312.1 1324.3 313.3 C1316.9 314.5 1308.4 313.3 1301.1 311.4 C1293.8 309.6 1286.5 306.5 1280.6 302.1 C1274.7 297.8 1268.8 292.1 1265.7 285.4 C1262.6 278.7 1261.6 269.7 1262 262.1 C1262.5 254.5 1264.8 246.6 1268.5 239.8 C1272.2 233 1277.4 226 1284.3 221.2 C1291.3 216.4 1302.2 211.9 1310.4 211Z" fill="#e6d41a" filter="url(#blur2)"/>
<g><circle cx="1310.3" cy="211.8" r="2.8" fill="#e4d21c"/><circle cx="1313.7" cy="214.3" r="2.5" fill="#dccb18"/><circle cx="1319.2" cy="213.1" r="2.6" fill="#e8d836"/><circle cx="1320.4" cy="213.1" r="1.9" fill="#e4d21c"/><circle cx="1324" cy="215.7" r="1.7" fill="#f0e02a"/><circle cx="1331" cy="216.4" r="1.8" fill="#ecdc22"/><circle cx="1335.6" cy="216.7" r="2" fill="#dccb18"/><circle cx="1339.6" cy="216.1" r="2.4" fill="#e4d21c"/><circle cx="1340.9" cy="222.2" r="2.6" fill="#ecdc22"/><circle cx="1344.4" cy="222.5" r="1.8" fill="#e8d836"/><circle cx="1347.1" cy="225.1" r="2.5" fill="#dccb18"/><circle cx="1351.1" cy="227.5" r="1.7" fill="#e4d21c"/><circle cx="1355.8" cy="230.6" r="2.2" fill="#f0e02a"/><circle cx="1357.1" cy="232.8" r="2.2" fill="#f0e02a"/><circle cx="1355.9" cy="236.2" r="2.5" fill="#e8d836"/><circle cx="1357.6" cy="239.8" r="3.1" fill="#ecdc22"/><circle cx="1361.2" cy="242.5" r="2.4" fill="#dccb18"/><circle cx="1361.2" cy="248.1" r="3" fill="#e4d21c"/><circle cx="1361.8" cy="252.5" r="1.7" fill="#f0e02a"/><circle cx="1364" cy="256" r="2.9" fill="#e8d836"/><circle cx="1364.5" cy="258" r="2.1" fill="#dccb18"/><circle cx="1366.4" cy="265.2" r="2" fill="#e4d21c"/><circle cx="1365.9" cy="267.6" r="1.9" fill="#e4d21c"/><circle cx="1367" cy="268.7" r="2.1" fill="#f0e02a"/><circle cx="1361.9" cy="276.4" r="2.5" fill="#e4d21c"/><circle cx="1362.8" cy="281.2" r="3.4" fill="#e8d836"/><circle cx="1359.1" cy="284.7" r="3.2" fill="#f0e02a"/><circle cx="1360.1" cy="284.9" r="2.5" fill="#dccb18"/><circle cx="1357.4" cy="289" r="2.8" fill="#dccb18"/><circle cx="1356.9" cy="291.2" r="2.1" fill="#ecdc22"/><circle cx="1351.2" cy="298.2" r="2.5" fill="#dccb18"/><circle cx="1350.8" cy="297.6" r="2.1" fill="#f0e02a"/><circle cx="1344.9" cy="299.7" r="1.6" fill="#e8d836"/><circle cx="1346.1" cy="304.3" r="2" fill="#dccb18"/><circle cx="1340.4" cy="304" r="2.6" fill="#f0e02a"/><circle cx="1338.1" cy="307.4" r="2.7" fill="#dccb18"/><circle cx="1334.6" cy="309.9" r="2.2" fill="#f0e02a"/><circle cx="1330.1" cy="310.5" r="1.9" fill="#e4d21c"/><circle cx="1327.8" cy="314.2" r="3.2" fill="#dccb18"/><circle cx="1322" cy="314.5" r="2.3" fill="#ecdc22"/><circle cx="1318.9" cy="311.2" r="2.1" fill="#e8d836"/><circle cx="1313.8" cy="313" r="2" fill="#e8d836"/><circle cx="1310.8" cy="311.6" r="2" fill="#dccb18"/><circle cx="1305.1" cy="309.7" r="2.2" fill="#ecdc22"/><circle cx="1302.9" cy="310.5" r="1.9" fill="#dccb18"/><circle cx="1297.4" cy="307.7" r="2.5" fill="#dccb18"/><circle cx="1294.4" cy="306.2" r="2.7" fill="#dccb18"/><circle cx="1289.5" cy="305.9" r="3.3" fill="#ecdc22"/><circle cx="1289.4" cy="304.4" r="3.1" fill="#dccb18"/><circle cx="1282.4" cy="303.5" r="1.9" fill="#f0e02a"/><circle cx="1278.3" cy="301.3" r="2.7" fill="#e4d21c"/><circle cx="1277.1" cy="299.9" r="1.7" fill="#e4d21c"/><circle cx="1274.2" cy="296.4" r="3" fill="#e8d836"/><circle cx="1272.9" cy="293.2" r="3.4" fill="#e8d836"/><circle cx="1269.7" cy="288.5" r="3" fill="#ecdc22"/><circle cx="1265.8" cy="286.4" r="2.2" fill="#f0e02a"/><circle cx="1263.7" cy="282.7" r="3" fill="#e4d21c"/><circle cx="1263.4" cy="276.5" r="3" fill="#f0e02a"/><circle cx="1263.6" cy="275.5" r="2.1" fill="#e8d836"/><circle cx="1262.5" cy="269" r="2.8" fill="#e8d836"/><circle cx="1264.3" cy="266.3" r="2.4" fill="#f0e02a"/><circle cx="1261.3" cy="264.3" r="2.5" fill="#dccb18"/><circle cx="1264.5" cy="257.4" r="3" fill="#f0e02a"/><circle cx="1262.1" cy="254" r="3.2" fill="#f0e02a"/><circle cx="1267.6" cy="253.4" r="3" fill="#f0e02a"/><circle cx="1268" cy="246" r="3.2" fill="#ecdc22"/><circle cx="1267.7" cy="241.3" r="3.1" fill="#e4d21c"/><circle cx="1266.9" cy="240.8" r="2.1" fill="#e4d21c"/><circle cx="1273.6" cy="238" r="2.6" fill="#ecdc22"/><circle cx="1274.3" cy="231.6" r="2.8" fill="#e8d836"/><circle cx="1274.9" cy="228.5" r="1.6" fill="#e4d21c"/><circle cx="1280.5" cy="227.5" r="2.7" fill="#dccb18"/><circle cx="1280.9" cy="226.1" r="3.1" fill="#e8d836"/><circle cx="1281.9" cy="223.1" r="1.6" fill="#e4d21c"/><circle cx="1287.9" cy="221.6" r="2.8" fill="#dccb18"/><circle cx="1291.9" cy="220.7" r="2.3" fill="#ecdc22"/><circle cx="1297.1" cy="215" r="1.7" fill="#ecdc22"/><circle cx="1298.8" cy="216.9" r="3.1" fill="#e4d21c"/><circle cx="1300.5" cy="214.9" r="2.6" fill="#ecdc22"/><circle cx="1307.1" cy="212.9" r="3" fill="#e4d21c"/></g>
<g clip-path="url(#pc2)"><circle cx="1309.6" cy="244" r="2" fill="#c8b214"/><circle cx="1347.6" cy="250" r="2" fill="#c8b214"/><circle cx="1364.7" cy="315.5" r="2.2" fill="#c8b214"/><circle cx="1273.9" cy="220.5" r="1.8" fill="#e0cc14"/><circle cx="1332.9" cy="208.4" r="1.4" fill="#f0e040"/><circle cx="1306.8" cy="244.4" r="1.6" fill="#c8b214"/><circle cx="1296" cy="249" r="2.4" fill="#f0e040"/><circle cx="1296.4" cy="304.8" r="2" fill="#c8b214"/><circle cx="1265.2" cy="244.5" r="1.4" fill="#e0cc14"/><circle cx="1351.9" cy="280.3" r="1.7" fill="#eedd20"/><circle cx="1286.2" cy="253" r="1.2" fill="#f0e040"/><circle cx="1277.4" cy="267.3" r="2" fill="#eedd20"/><circle cx="1300.4" cy="241.1" r="1.6" fill="#c8b214"/><circle cx="1363.7" cy="272.8" r="1.1" fill="#b09a18"/><circle cx="1357.6" cy="310.4" r="2" fill="#c8b214"/><circle cx="1354.1" cy="222.6" r="1.5" fill="#b09a18"/><circle cx="1262.8" cy="243.1" r="1.9" fill="#f5e630"/><circle cx="1354.9" cy="225" r="1.8" fill="#f5e630"/><circle cx="1333.5" cy="225.9" r="1.7" fill="#eedd20"/><circle cx="1265.5" cy="282.7" r="1.3" fill="#eedd20"/><circle cx="1329.5" cy="277.1" r="1.9" fill="#f0e040"/><circle cx="1341.3" cy="241.1" r="1.2" fill="#f0e040"/><circle cx="1301.9" cy="258.2" r="1.6" fill="#d8c412"/><circle cx="1284.8" cy="264.9" r="2.2" fill="#c8b214"/><circle cx="1297.8" cy="240.7" r="1" fill="#eedd20"/><circle cx="1301.7" cy="313.4" r="2.4" fill="#e0cc14"/><circle cx="1335.3" cy="264.2" r="1.9" fill="#e0cc14"/><circle cx="1287" cy="252.5" r="1.1" fill="#f2e228"/><circle cx="1308.7" cy="265.4" r="1.4" fill="#d8c412"/><circle cx="1271.6" cy="298.5" r="1.6" fill="#f0e040"/><circle cx="1292.4" cy="217.2" r="1.3" fill="#d8c412"/><circle cx="1300.6" cy="265.2" r="1.4" fill="#c8b214"/><circle cx="1346" cy="220.8" r="1.3" fill="#f5e630"/><circle cx="1346.6" cy="235.7" r="1.9" fill="#f0e040"/><circle cx="1270.2" cy="274.9" r="1.3" fill="#f2e228"/><circle cx="1306.8" cy="209.4" r="1.8" fill="#c8b214"/><circle cx="1352.3" cy="216.3" r="1.9" fill="#f0e040"/><circle cx="1320.9" cy="299.7" r="2.4" fill="#b09a18"/><circle cx="1318.9" cy="300.2" r="1.6" fill="#e0cc14"/><circle cx="1260.7" cy="294.6" r="1.8" fill="#eedd20"/><circle cx="1368.9" cy="231.2" r="1.7" fill="#b09a18"/><circle cx="1316.7" cy="292.5" r="2.1" fill="#eedd20"/><circle cx="1330.8" cy="247" r="1.5" fill="#f5e630"/><circle cx="1331.3" cy="297.8" r="1.2" fill="#e0cc14"/><circle cx="1265.2" cy="223.5" r="2.3" fill="#e0cc14"/><circle cx="1277.8" cy="297.9" r="2.4" fill="#d8c412"/><circle cx="1351.2" cy="209.1" r="1.2" fill="#f0e040"/><circle cx="1321.8" cy="284.1" r="2.2" fill="#eedd20"/><circle cx="1342.1" cy="238.4" r="2.2" fill="#b09a18"/><circle cx="1281.1" cy="312" r="2.5" fill="#c8b214"/><circle cx="1298.1" cy="217.3" r="1.8" fill="#b09a18"/><circle cx="1297.8" cy="211.4" r="1.5" fill="#f2e228"/><circle cx="1291.5" cy="302.9" r="1.5" fill="#f2e228"/><circle cx="1360.8" cy="233.3" r="1.9" fill="#d8c412"/><circle cx="1357.1" cy="216.6" r="2.5" fill="#e0cc14"/><circle cx="1341.2" cy="316.3" r="2.6" fill="#c8b214"/><circle cx="1369.8" cy="292.7" r="1.7" fill="#c8b214"/><circle cx="1293.5" cy="212.7" r="2.5" fill="#c8b214"/><circle cx="1332" cy="259.8" r="1.3" fill="#d8c412"/><circle cx="1327.6" cy="297.9" r="2.1" fill="#f0e040"/><circle cx="1358.4" cy="309.5" r="1.8" fill="#f0e040"/><circle cx="1317.8" cy="249.9" r="1.5" fill="#d8c412"/><circle cx="1352.7" cy="281.6" r="1.9" fill="#e0cc14"/><circle cx="1317.4" cy="285.9" r="2.6" fill="#f5e630"/><circle cx="1280.6" cy="252.2" r="1.3" fill="#f5e630"/><circle cx="1294.7" cy="315.7" r="2.1" fill="#f5e630"/><circle cx="1306.6" cy="250.1" r="1.3" fill="#e0cc14"/><circle cx="1330.8" cy="222.9" r="1.9" fill="#e0cc14"/><circle cx="1339" cy="275.9" r="2.1" fill="#f2e228"/><circle cx="1284.1" cy="287.3" r="1.8" fill="#e0cc14"/><circle cx="1275.8" cy="216.7" r="2.5" fill="#d8c412"/><circle cx="1274.6" cy="314.6" r="1.8" fill="#e0cc14"/><circle cx="1358.1" cy="263.8" r="2" fill="#eedd20"/><circle cx="1286" cy="250.2" r="1.9" fill="#f2e228"/><circle cx="1305.8" cy="211.6" r="2.3" fill="#e0cc14"/><circle cx="1366" cy="276.3" r="2.2" fill="#e0cc14"/><circle cx="1333.3" cy="281" r="1" fill="#f5e630"/><circle cx="1340.2" cy="222.5" r="1.5" fill="#d8c412"/><circle cx="1268" cy="278.6" r="2.1" fill="#f5e630"/><circle cx="1315.2" cy="294.2" r="1.1" fill="#e0cc14"/><circle cx="1360.6" cy="209.8" r="1.5" fill="#f2e228"/><circle cx="1274.9" cy="215.8" r="1.4" fill="#c8b214"/><circle cx="1287.5" cy="286.3" r="1.2" fill="#e0cc14"/><circle cx="1307.1" cy="294.7" r="1.2" fill="#b09a18"/><circle cx="1350.3" cy="293.2" r="1.6" fill="#eedd20"/><circle cx="1360.4" cy="316.8" r="1.2" fill="#eedd20"/><circle cx="1283.8" cy="242.8" r="2.5" fill="#f0e040"/><circle cx="1311.4" cy="207.4" r="1.1" fill="#f2e228"/><circle cx="1275.7" cy="255.2" r="1.8" fill="#b09a18"/><circle cx="1357.1" cy="291.2" r="1.6" fill="#f5e630"/><circle cx="1268.4" cy="304.7" r="1.3" fill="#f0e040"/><circle cx="1276.8" cy="315.9" r="2.4" fill="#f0e040"/><circle cx="1293" cy="239.8" r="2.2" fill="#f2e228"/><circle cx="1258.3" cy="228.6" r="1.8" fill="#c8b214"/><circle cx="1342.7" cy="314.5" r="2.5" fill="#f5e630"/><circle cx="1304.3" cy="215.7" r="1.5" fill="#b09a18"/><circle cx="1258.7" cy="257.8" r="1.6" fill="#eedd20"/><circle cx="1295.9" cy="209.3" r="1.5" fill="#d8c412"/><circle cx="1287.8" cy="213.6" r="1.2" fill="#f2e228"/><circle cx="1340.7" cy="231.9" r="1.2" fill="#e0cc14"/><circle cx="1260.4" cy="247.6" r="2.4" fill="#c8b214"/><circle cx="1281.6" cy="313.4" r="2" fill="#f5e630"/><circle cx="1352.7" cy="308.4" r="1.9" fill="#f0e040"/><circle cx="1278.7" cy="276" r="2.2" fill="#c8b214"/><circle cx="1305.9" cy="227.5" r="1.2" fill="#f0e040"/><circle cx="1342.6" cy="308" r="1" fill="#f2e228"/><circle cx="1263.7" cy="287.8" r="2.2" fill="#f2e228"/><circle cx="1364.6" cy="225.2" r="1.7" fill="#b09a18"/><circle cx="1354.7" cy="243.1" r="1.2" fill="#f0e040"/><circle cx="1368.1" cy="281.3" r="2.6" fill="#f2e228"/><circle cx="1310.9" cy="277.5" r="1.7" fill="#eedd20"/><circle cx="1330.6" cy="260" r="2.4" fill="#d8c412"/><circle cx="1319.3" cy="251.6" r="2" fill="#f2e228"/><circle cx="1363.3" cy="292" r="1.5" fill="#d8c412"/><circle cx="1348.8" cy="237.9" r="2" fill="#f5e630"/><circle cx="1281.2" cy="297.8" r="2.3" fill="#f2e228"/><circle cx="1277.1" cy="268.6" r="2.4" fill="#b09a18"/><circle cx="1355.7" cy="315.5" r="2.1" fill="#b09a18"/><circle cx="1276.3" cy="307.1" r="2.4" fill="#f0e040"/><circle cx="1293.7" cy="225.9" r="1.7" fill="#e0cc14"/><circle cx="1260.4" cy="309" r="1.2" fill="#d8c412"/><circle cx="1346.3" cy="235.2" r="2.1" fill="#eedd20"/><circle cx="1308.7" cy="276" r="1.7" fill="#f5e630"/><circle cx="1335.9" cy="207.6" r="2" fill="#f5e630"/><circle cx="1318" cy="266.5" r="1.2" fill="#d8c412"/><circle cx="1317.7" cy="307.9" r="1" fill="#f5e630"/><circle cx="1306.4" cy="255.1" r="2.5" fill="#f0e040"/><circle cx="1352.6" cy="309.7" r="1.1" fill="#c8b214"/><circle cx="1264.7" cy="311.3" r="1.2" fill="#eedd20"/><circle cx="1300.3" cy="227.7" r="1.6" fill="#c8b214"/><circle cx="1285.4" cy="308.6" r="1.3" fill="#f0e040"/><circle cx="1325.5" cy="303.3" r="2.6" fill="#d8c412"/><circle cx="1343.5" cy="275.9" r="1.9" fill="#f5e630"/><circle cx="1344.7" cy="223.2" r="2.3" fill="#b09a18"/><circle cx="1299.5" cy="262.5" r="2" fill="#f0e040"/><circle cx="1326.3" cy="254.7" r="2.1" fill="#e0cc14"/><circle cx="1287.8" cy="260.3" r="1.2" fill="#c8b214"/><circle cx="1290" cy="229.6" r="2.1" fill="#b09a18"/><circle cx="1327" cy="296.6" r="1.1" fill="#b09a18"/><circle cx="1353.8" cy="263.6" r="2" fill="#eedd20"/><circle cx="1283.8" cy="211.8" r="2" fill="#f0e040"/><circle cx="1342.7" cy="274.2" r="1.1" fill="#c8b214"/><circle cx="1269.1" cy="290" r="1.3" fill="#f0e040"/><circle cx="1278" cy="296.7" r="1.6" fill="#f2e228"/><circle cx="1367.5" cy="218.5" r="1.7" fill="#c8b214"/><circle cx="1344" cy="307.8" r="1.4" fill="#b09a18"/><circle cx="1354.4" cy="284.9" r="1.5" fill="#d8c412"/><circle cx="1291.2" cy="221.9" r="2.3" fill="#b09a18"/><circle cx="1350.3" cy="276.1" r="2.4" fill="#e0cc14"/><circle cx="1265.3" cy="289.7" r="1.1" fill="#d8c412"/><circle cx="1341.6" cy="291.5" r="1.9" fill="#f5e630"/><circle cx="1292.9" cy="309.7" r="2.1" fill="#f5e630"/><circle cx="1288.1" cy="259.9" r="2.1" fill="#d8c412"/><circle cx="1294.2" cy="252.8" r="2.4" fill="#b09a18"/><circle cx="1277.5" cy="281.8" r="2.4" fill="#d8c412"/><circle cx="1287.7" cy="238.8" r="2.4" fill="#eedd20"/><circle cx="1313.4" cy="236.7" r="2.4" fill="#d8c412"/><circle cx="1316.1" cy="232.3" r="2" fill="#c8b214"/><circle cx="1259.2" cy="270.4" r="2.2" fill="#f5e630"/><circle cx="1309.5" cy="316.9" r="1.3" fill="#f0e040"/><circle cx="1341.3" cy="272.9" r="2.3" fill="#f5e630"/><circle cx="1292.2" cy="297.1" r="2.3" fill="#b09a18"/><circle cx="1338.9" cy="251.5" r="1.8" fill="#c8b214"/><circle cx="1294.4" cy="257.8" r="1.5" fill="#c8b214"/><circle cx="1326.7" cy="264.5" r="1.7" fill="#e0cc14"/><circle cx="1322.4" cy="237.9" r="1" fill="#e0cc14"/><circle cx="1304.7" cy="266.7" r="2.5" fill="#e0cc14"/><circle cx="1274.1" cy="281.3" r="2.2" fill="#f5e630"/><circle cx="1314.9" cy="254.5" r="1.2" fill="#eedd20"/><circle cx="1338.3" cy="237.4" r="1.7" fill="#f5e630"/><circle cx="1365" cy="297" r="2.4" fill="#b09a18"/><circle cx="1334.2" cy="261.8" r="2.2" fill="#d8c412"/><circle cx="1352" cy="248.5" r="1.4" fill="#f0e040"/><circle cx="1297.7" cy="284.1" r="1.8" fill="#c8b214"/><circle cx="1320.8" cy="224.6" r="2.4" fill="#b09a18"/><circle cx="1311.5" cy="210.5" r="1.8" fill="#f0e040"/><circle cx="1313.5" cy="253.6" r="2" fill="#d8c412"/><circle cx="1353.3" cy="308.9" r="2.2" fill="#f0e040"/><circle cx="1291.6" cy="309" r="2.4" fill="#b09a18"/><circle cx="1339.8" cy="236.1" r="2.1" fill="#f5e630"/><circle cx="1365.2" cy="290" r="2.1" fill="#b09a18"/><circle cx="1296.3" cy="210.5" r="2.4" fill="#d8c412"/><circle cx="1266.9" cy="235.5" r="1.3" fill="#d8c412"/><circle cx="1359.4" cy="280" r="1.2" fill="#f0e040"/><circle cx="1355.6" cy="295.8" r="2.4" fill="#eedd20"/><circle cx="1334.6" cy="291.4" r="1" fill="#f2e228"/><circle cx="1349.9" cy="246.7" r="1.3" fill="#f2e228"/><circle cx="1296" cy="262.9" r="1.5" fill="#f2e228"/><circle cx="1364.9" cy="292.7" r="1.7" fill="#f0e040"/><circle cx="1260.2" cy="257.5" r="2.5" fill="#eedd20"/><circle cx="1300.9" cy="314.8" r="1.8" fill="#c8b214"/><circle cx="1349.1" cy="250.2" r="2.5" fill="#e0cc14"/><circle cx="1359.7" cy="247.1" r="1.5" fill="#e0cc14"/><circle cx="1320.7" cy="208.3" r="1.9" fill="#f2e228"/><circle cx="1287.2" cy="240" r="1.2" fill="#eedd20"/><circle cx="1275.7" cy="243" r="2.2" fill="#f5e630"/><circle cx="1272.9" cy="315.3" r="1" fill="#b09a18"/><circle cx="1299" cy="280.7" r="1.9" fill="#eedd20"/><circle cx="1359.2" cy="217.6" r="1.8" fill="#eedd20"/><circle cx="1338.8" cy="265" r="2" fill="#f5e630"/></g>
<circle cx="1237.2" cy="263.2" r="1.9" fill="#e2d44a" opacity="0.8"/>
<circle cx="1363.4" cy="347.2" r="1.7" fill="#e2d44a" opacity="0.8"/>
<circle cx="1220.9" cy="264.7" r="2.2" fill="#e2d44a" opacity="0.8"/>
<circle cx="1404.8" cy="262.5" r="1.8" fill="#e2d44a" opacity="0.8"/>
<circle cx="1232.2" cy="302.7" r="1.9" fill="#e2d44a" opacity="0.8"/>
<circle cx="1398.9" cy="269.4" r="2" fill="#e2d44a" opacity="0.8"/>
<circle cx="1256" cy="335.7" r="2.1" fill="#e2d44a" opacity="0.8"/>
<circle cx="1370.5" cy="216.8" r="2" fill="#e2d44a" opacity="0.8"/>
<circle cx="1245.9" cy="236.4" r="1.6" fill="#e2d44a" opacity="0.8"/>
<circle cx="1395.7" cy="312.7" r="1.5" fill="#e2d44a" opacity="0.8"/>
<circle cx="1274.7" cy="321.8" r="1.9" fill="#e2d44a" opacity="0.8"/>
<circle cx="1219.9" cy="267.3" r="1.3" fill="#e2d44a" opacity="0.8"/>
<circle cx="1263.3" cy="341.3" r="2.2" fill="#e2d44a" opacity="0.8"/>
<circle cx="1388.2" cy="294.4" r="2.4" fill="#e2d44a" opacity="0.8"/>
<circle cx="1388.9" cy="254.6" r="2.1" fill="#e2d44a" opacity="0.8"/>
<circle cx="1284.2" cy="319" r="2.3" fill="#e2d44a" opacity="0.8"/>
<path d="M1624.7 190.4 C1630.9 188.9 1637.6 192 1643.3 195.1 C1649.1 198.2 1655 203.6 1659.2 209 C1663.3 214.4 1666.3 220.6 1668.5 227.6 C1670.6 234.6 1671.1 244.2 1672.2 250.9 C1673.3 257.5 1675.9 262.2 1675 267.6 C1674 273 1669.2 278.5 1666.6 283.4 C1664 288.4 1662.3 292.7 1659.2 297.4 C1656.1 302 1652.2 307.4 1648 311.3 C1643.8 315.2 1639.5 317.4 1634 320.6 C1628.6 323.9 1620.9 330.1 1615.4 330.9 C1610 331.6 1604.6 329.3 1601.5 325.3 C1598.4 321.2 1599.2 312.1 1596.8 306.7 C1594.5 301.2 1590.6 297.4 1587.5 292.7 C1584.4 288.1 1581.8 283.9 1578.2 278.8 C1574.7 273.7 1568.5 267.5 1566.2 262 C1563.8 256.6 1563.4 251.5 1564.3 246.2 C1565.2 241 1567.9 235.1 1571.7 230.4 C1575.6 225.8 1581.8 222.7 1587.5 218.3 C1593.3 214 1599.9 209 1606.1 204.4 C1612.3 199.7 1618.5 192 1624.7 190.4Z" fill="#e6d41a" filter="url(#blur2)"/>
<g><circle cx="1623.5" cy="191.3" r="2.8" fill="#e4d21c"/><circle cx="1630.1" cy="192.4" r="3.2" fill="#e4d21c"/><circle cx="1632.1" cy="192.9" r="2" fill="#f0e02a"/><circle cx="1636.2" cy="192" r="2.8" fill="#ecdc22"/><circle cx="1645.6" cy="196.7" r="1.8" fill="#f0e02a"/><circle cx="1648.4" cy="199.3" r="3.3" fill="#f0e02a"/><circle cx="1649.6" cy="199.9" r="3.2" fill="#e8d836"/><circle cx="1654.2" cy="204" r="2.3" fill="#dccb18"/><circle cx="1658.1" cy="208.3" r="2.2" fill="#e8d836"/><circle cx="1661.7" cy="213.6" r="2.8" fill="#e8d836"/><circle cx="1662.9" cy="217.9" r="2.4" fill="#dccb18"/><circle cx="1664.7" cy="218.6" r="1.9" fill="#f0e02a"/><circle cx="1665.4" cy="223.7" r="2.7" fill="#dccb18"/><circle cx="1670.5" cy="228.6" r="2.6" fill="#e8d836"/><circle cx="1668" cy="231.4" r="2.3" fill="#ecdc22"/><circle cx="1669.7" cy="238.2" r="2.4" fill="#ecdc22"/><circle cx="1671.9" cy="244.4" r="1.7" fill="#e4d21c"/><circle cx="1671.5" cy="247.9" r="2.4" fill="#f0e02a"/><circle cx="1670.6" cy="251.2" r="3.2" fill="#f0e02a"/><circle cx="1671.6" cy="258.1" r="2.3" fill="#e4d21c"/><circle cx="1675.9" cy="262" r="2" fill="#dccb18"/><circle cx="1673.2" cy="266.2" r="2.6" fill="#e8d836"/><circle cx="1671.4" cy="270.4" r="2.6" fill="#e4d21c"/><circle cx="1670.4" cy="272.5" r="2.8" fill="#ecdc22"/><circle cx="1671.2" cy="276.7" r="2.4" fill="#e8d836"/><circle cx="1667.3" cy="282.8" r="1.7" fill="#dccb18"/><circle cx="1666.4" cy="287.5" r="2.5" fill="#e4d21c"/><circle cx="1665.1" cy="289.1" r="2.1" fill="#f0e02a"/><circle cx="1660.7" cy="296.1" r="3.3" fill="#e8d836"/><circle cx="1657.1" cy="300.8" r="1.6" fill="#f0e02a"/><circle cx="1653.1" cy="303.1" r="2.6" fill="#dccb18"/><circle cx="1650.5" cy="305.1" r="3" fill="#dccb18"/><circle cx="1648.9" cy="312.3" r="2.9" fill="#f0e02a"/><circle cx="1644.8" cy="314.8" r="2" fill="#dccb18"/><circle cx="1641.7" cy="315.1" r="2" fill="#f0e02a"/><circle cx="1637" cy="319.1" r="2.4" fill="#f0e02a"/><circle cx="1632.8" cy="318.9" r="3" fill="#e8d836"/><circle cx="1631.3" cy="324.1" r="2.2" fill="#dccb18"/><circle cx="1624.9" cy="325.8" r="2.2" fill="#f0e02a"/><circle cx="1621" cy="330.1" r="1.9" fill="#ecdc22"/><circle cx="1614.8" cy="331.8" r="2" fill="#f0e02a"/><circle cx="1612.9" cy="328.6" r="2.2" fill="#ecdc22"/><circle cx="1607.3" cy="327.6" r="3.2" fill="#dccb18"/><circle cx="1601.3" cy="326.3" r="1.8" fill="#ecdc22"/><circle cx="1600" cy="324.8" r="2.6" fill="#e4d21c"/><circle cx="1601.8" cy="320.3" r="3.2" fill="#e4d21c"/><circle cx="1596.5" cy="315.8" r="1.7" fill="#f0e02a"/><circle cx="1599" cy="307.7" r="2.9" fill="#e4d21c"/><circle cx="1595.7" cy="306.9" r="2.4" fill="#e8d836"/><circle cx="1592.4" cy="298.6" r="2.6" fill="#ecdc22"/><circle cx="1588.4" cy="295.1" r="2.6" fill="#f0e02a"/><circle cx="1587.9" cy="292" r="3.3" fill="#f0e02a"/><circle cx="1583.9" cy="288.4" r="3.3" fill="#e4d21c"/><circle cx="1583.6" cy="283.1" r="2.9" fill="#ecdc22"/><circle cx="1582.3" cy="282.7" r="2.4" fill="#e8d836"/><circle cx="1579.5" cy="278.1" r="2.9" fill="#ecdc22"/><circle cx="1572.4" cy="272.4" r="3.4" fill="#dccb18"/><circle cx="1571" cy="267.8" r="1.9" fill="#f0e02a"/><circle cx="1566.3" cy="263.3" r="2.1" fill="#f0e02a"/><circle cx="1564.8" cy="264.3" r="3.3" fill="#f0e02a"/><circle cx="1565.2" cy="259.6" r="3" fill="#dccb18"/><circle cx="1564.6" cy="250.7" r="2.6" fill="#e8d836"/><circle cx="1564.3" cy="249" r="2.9" fill="#e4d21c"/><circle cx="1563.3" cy="245.3" r="2.5" fill="#e8d836"/><circle cx="1566.1" cy="237" r="2.7" fill="#f0e02a"/><circle cx="1567.6" cy="236.7" r="2.6" fill="#ecdc22"/><circle cx="1570.3" cy="231.6" r="2.8" fill="#dccb18"/><circle cx="1573.2" cy="227.7" r="3" fill="#e4d21c"/><circle cx="1578.3" cy="225.2" r="2.8" fill="#e8d836"/><circle cx="1582.7" cy="223" r="2" fill="#ecdc22"/><circle cx="1587.4" cy="217.6" r="2.6" fill="#ecdc22"/><circle cx="1591" cy="218" r="3.2" fill="#e4d21c"/><circle cx="1594.9" cy="213.3" r="3.4" fill="#e4d21c"/><circle cx="1600.3" cy="211.5" r="1.8" fill="#e4d21c"/><circle cx="1604.1" cy="209.1" r="3.1" fill="#f0e02a"/><circle cx="1606.9" cy="205.5" r="2.7" fill="#f0e02a"/><circle cx="1610.6" cy="199.9" r="1.9" fill="#ecdc22"/><circle cx="1611.1" cy="199.7" r="2.7" fill="#e8d836"/><circle cx="1614.8" cy="195.9" r="2.2" fill="#e8d836"/><circle cx="1622.5" cy="193.3" r="2.6" fill="#dccb18"/></g>
<g clip-path="url(#pc3)"><circle cx="1568" cy="314.7" r="1.8" fill="#eedd20"/><circle cx="1600.3" cy="286.5" r="2.5" fill="#c8b214"/><circle cx="1604.7" cy="196.7" r="1.8" fill="#b09a18"/><circle cx="1595.7" cy="325.1" r="1" fill="#f0e040"/><circle cx="1606.4" cy="257.7" r="2.4" fill="#f2e228"/><circle cx="1569.5" cy="217.5" r="1.2" fill="#c8b214"/><circle cx="1677.8" cy="311.9" r="1.8" fill="#b09a18"/><circle cx="1671.1" cy="229.5" r="1.3" fill="#f5e630"/><circle cx="1649.2" cy="284.1" r="2.5" fill="#b09a18"/><circle cx="1634.7" cy="232.3" r="2.6" fill="#e0cc14"/><circle cx="1643.1" cy="192.4" r="1.4" fill="#e0cc14"/><circle cx="1638.5" cy="292" r="2.1" fill="#f0e040"/><circle cx="1661.5" cy="208.4" r="1.1" fill="#f2e228"/><circle cx="1621.7" cy="263.7" r="2.3" fill="#e0cc14"/><circle cx="1570.9" cy="302.1" r="1.5" fill="#eedd20"/><circle cx="1589.1" cy="227.5" r="1.9" fill="#b09a18"/><circle cx="1667.9" cy="227.3" r="2.1" fill="#f5e630"/><circle cx="1659.9" cy="197.8" r="1.1" fill="#f5e630"/><circle cx="1674.9" cy="223.4" r="2.3" fill="#d8c412"/><circle cx="1634.3" cy="200.1" r="1.8" fill="#f5e630"/><circle cx="1565.5" cy="320.2" r="1.9" fill="#e0cc14"/><circle cx="1644.5" cy="220.2" r="1.5" fill="#c8b214"/><circle cx="1574.9" cy="292.6" r="1.8" fill="#f5e630"/><circle cx="1651.6" cy="314.2" r="1.4" fill="#f2e228"/><circle cx="1610.1" cy="206" r="1" fill="#e0cc14"/><circle cx="1589" cy="207.8" r="2.4" fill="#f2e228"/><circle cx="1602.5" cy="234.6" r="1.6" fill="#d8c412"/><circle cx="1572.7" cy="297.1" r="1.9" fill="#b09a18"/><circle cx="1672.3" cy="305.6" r="2" fill="#f5e630"/><circle cx="1618.5" cy="268.3" r="2.3" fill="#b09a18"/><circle cx="1655.2" cy="245.1" r="1.6" fill="#b09a18"/><circle cx="1607.6" cy="197.1" r="1.4" fill="#e0cc14"/><circle cx="1659.2" cy="274.7" r="1.9" fill="#f0e040"/><circle cx="1612.4" cy="266" r="2.2" fill="#f0e040"/><circle cx="1648.5" cy="319.5" r="1.9" fill="#d8c412"/><circle cx="1563.2" cy="331.8" r="1.1" fill="#eedd20"/><circle cx="1667" cy="191.4" r="1.6" fill="#f0e040"/><circle cx="1607.6" cy="278" r="1.7" fill="#d8c412"/><circle cx="1611.3" cy="270.7" r="1.1" fill="#b09a18"/><circle cx="1586.4" cy="285" r="1.3" fill="#b09a18"/><circle cx="1584.3" cy="190.6" r="1" fill="#b09a18"/><circle cx="1607.8" cy="317.1" r="1.2" fill="#f0e040"/><circle cx="1570.2" cy="331.3" r="1.9" fill="#f0e040"/><circle cx="1569.7" cy="265.7" r="2.1" fill="#f2e228"/><circle cx="1567.1" cy="305.4" r="2" fill="#d8c412"/><circle cx="1646.1" cy="189.1" r="2.1" fill="#d8c412"/><circle cx="1615.4" cy="190.4" r="2.3" fill="#d8c412"/><circle cx="1593" cy="306.1" r="1.8" fill="#e0cc14"/><circle cx="1577.6" cy="304.8" r="2.2" fill="#f2e228"/><circle cx="1581.1" cy="195.1" r="1.3" fill="#f0e040"/><circle cx="1674.4" cy="285.6" r="1.8" fill="#d8c412"/><circle cx="1568.1" cy="302.9" r="1.1" fill="#f5e630"/><circle cx="1606.1" cy="290.3" r="1.3" fill="#f2e228"/><circle cx="1647.1" cy="242.7" r="1.3" fill="#f0e040"/><circle cx="1640.6" cy="335.3" r="1.2" fill="#e0cc14"/><circle cx="1665" cy="311.7" r="1.9" fill="#f5e630"/><circle cx="1620" cy="249.9" r="2.3" fill="#b09a18"/><circle cx="1633.6" cy="222.1" r="1.5" fill="#f0e040"/><circle cx="1651.8" cy="186" r="2.2" fill="#f0e040"/><circle cx="1588" cy="286.3" r="2.3" fill="#eedd20"/><circle cx="1562.4" cy="301.3" r="2.5" fill="#eedd20"/><circle cx="1632.1" cy="322.6" r="2.1" fill="#f2e228"/><circle cx="1638.8" cy="324" r="1.2" fill="#c8b214"/><circle cx="1588.7" cy="251.6" r="2.1" fill="#eedd20"/><circle cx="1571.9" cy="190.4" r="1.5" fill="#f2e228"/><circle cx="1568.4" cy="319.5" r="1.2" fill="#c8b214"/><circle cx="1570.1" cy="300.5" r="2.2" fill="#e0cc14"/><circle cx="1648.8" cy="258.4" r="1.9" fill="#f2e228"/><circle cx="1615.5" cy="293.2" r="2.5" fill="#c8b214"/><circle cx="1625.8" cy="330.4" r="1.1" fill="#b09a18"/><circle cx="1650.9" cy="314.5" r="2.4" fill="#d8c412"/><circle cx="1673.1" cy="208.5" r="1.9" fill="#f5e630"/><circle cx="1606.2" cy="229.1" r="1.8" fill="#b09a18"/><circle cx="1657.1" cy="260" r="1.2" fill="#b09a18"/><circle cx="1595.9" cy="196.7" r="1.7" fill="#d8c412"/><circle cx="1616.2" cy="288.2" r="1.7" fill="#f5e630"/><circle cx="1616.3" cy="231.2" r="2" fill="#c8b214"/><circle cx="1561.3" cy="327.9" r="1" fill="#e0cc14"/><circle cx="1622.7" cy="190.7" r="1.5" fill="#b09a18"/><circle cx="1560.1" cy="248.9" r="2.1" fill="#b09a18"/><circle cx="1566" cy="208.2" r="2.2" fill="#b09a18"/><circle cx="1589.6" cy="315.9" r="1.8" fill="#d8c412"/><circle cx="1562.7" cy="232.5" r="1.3" fill="#d8c412"/><circle cx="1586.1" cy="238.8" r="2.4" fill="#b09a18"/><circle cx="1660.2" cy="280.3" r="1" fill="#d8c412"/><circle cx="1649.9" cy="224" r="2.5" fill="#d8c412"/><circle cx="1576.5" cy="247.9" r="1.6" fill="#eedd20"/><circle cx="1597.4" cy="223.6" r="2.1" fill="#eedd20"/><circle cx="1637.3" cy="315.5" r="1.2" fill="#d8c412"/><circle cx="1572.5" cy="216.2" r="1.5" fill="#e0cc14"/><circle cx="1640.7" cy="331.4" r="1.6" fill="#d8c412"/><circle cx="1582.6" cy="262.7" r="1.2" fill="#c8b214"/><circle cx="1674.7" cy="255.5" r="1.7" fill="#b09a18"/><circle cx="1569" cy="270.7" r="1.8" fill="#eedd20"/><circle cx="1595.2" cy="289.3" r="1.8" fill="#f5e630"/><circle cx="1623.2" cy="322.4" r="1.1" fill="#f2e228"/><circle cx="1634.4" cy="238.7" r="1.9" fill="#b09a18"/><circle cx="1648.8" cy="243.5" r="1.3" fill="#d8c412"/><circle cx="1673.6" cy="293.8" r="1.6" fill="#f5e630"/><circle cx="1632.2" cy="216.2" r="2.1" fill="#b09a18"/><circle cx="1608.8" cy="286.6" r="2.4" fill="#b09a18"/><circle cx="1627.4" cy="315.2" r="1.7" fill="#f0e040"/><circle cx="1560.9" cy="309.7" r="2.3" fill="#f0e040"/><circle cx="1659.7" cy="330.7" r="1.6" fill="#eedd20"/><circle cx="1646" cy="316.1" r="2.2" fill="#e0cc14"/><circle cx="1565.2" cy="326.5" r="2.2" fill="#d8c412"/><circle cx="1649.8" cy="315.7" r="2.4" fill="#eedd20"/><circle cx="1662.6" cy="240.2" r="1.8" fill="#e0cc14"/><circle cx="1628.3" cy="255.2" r="1.6" fill="#b09a18"/><circle cx="1571.7" cy="328.1" r="2.5" fill="#d8c412"/><circle cx="1654.4" cy="312.9" r="1" fill="#f5e630"/><circle cx="1609.3" cy="211" r="1.3" fill="#e0cc14"/><circle cx="1674.9" cy="235" r="1.9" fill="#b09a18"/><circle cx="1622.5" cy="203.1" r="1.9" fill="#b09a18"/><circle cx="1658.9" cy="193.2" r="2.5" fill="#f5e630"/><circle cx="1666.5" cy="271.1" r="1.4" fill="#f5e630"/><circle cx="1617.1" cy="276.1" r="1.7" fill="#eedd20"/><circle cx="1647.1" cy="251.8" r="1.6" fill="#d8c412"/><circle cx="1631.7" cy="316.8" r="1.8" fill="#b09a18"/><circle cx="1647.1" cy="314.3" r="1.6" fill="#c8b214"/><circle cx="1669.9" cy="268.4" r="1.1" fill="#d8c412"/><circle cx="1658" cy="308.6" r="1.9" fill="#eedd20"/><circle cx="1601.1" cy="277.8" r="1.3" fill="#f2e228"/><circle cx="1650.6" cy="246.5" r="2.4" fill="#f2e228"/><circle cx="1649.5" cy="235.1" r="2.4" fill="#eedd20"/><circle cx="1569.1" cy="249.1" r="1.9" fill="#eedd20"/><circle cx="1647.6" cy="285.9" r="2.1" fill="#f5e630"/><circle cx="1625.9" cy="188" r="1.7" fill="#d8c412"/><circle cx="1560.4" cy="201.2" r="2.4" fill="#f2e228"/><circle cx="1620.2" cy="229.5" r="1.5" fill="#f0e040"/><circle cx="1673.9" cy="252.1" r="1.5" fill="#d8c412"/><circle cx="1664.5" cy="322.7" r="1.8" fill="#f0e040"/><circle cx="1622.1" cy="206.6" r="1.2" fill="#c8b214"/><circle cx="1624.9" cy="189.1" r="1.4" fill="#e0cc14"/><circle cx="1593.1" cy="280.8" r="2" fill="#c8b214"/><circle cx="1587" cy="227.7" r="1.4" fill="#c8b214"/><circle cx="1569.1" cy="211.6" r="1.1" fill="#d8c412"/><circle cx="1674.3" cy="285.9" r="1.7" fill="#f0e040"/><circle cx="1640.2" cy="191.8" r="1.1" fill="#f5e630"/><circle cx="1640.8" cy="322.4" r="1.2" fill="#c8b214"/><circle cx="1589.8" cy="325.6" r="1" fill="#e0cc14"/><circle cx="1599" cy="263.3" r="1.3" fill="#b09a18"/><circle cx="1590.2" cy="248.2" r="1.9" fill="#e0cc14"/><circle cx="1586" cy="210.5" r="1.7" fill="#b09a18"/><circle cx="1577.8" cy="280.8" r="1.2" fill="#c8b214"/><circle cx="1576.9" cy="282.2" r="2.3" fill="#f0e040"/><circle cx="1672.7" cy="262.4" r="1.6" fill="#d8c412"/><circle cx="1561.1" cy="263.3" r="1.7" fill="#eedd20"/><circle cx="1606.5" cy="222.9" r="2.4" fill="#f2e228"/><circle cx="1629.6" cy="292.3" r="1.5" fill="#e0cc14"/><circle cx="1573.2" cy="202.3" r="2.2" fill="#f0e040"/><circle cx="1642.2" cy="286.6" r="2.4" fill="#b09a18"/><circle cx="1578.8" cy="272.3" r="2.1" fill="#d8c412"/><circle cx="1642.1" cy="264.1" r="2.2" fill="#f2e228"/><circle cx="1565.5" cy="218.2" r="1.7" fill="#d8c412"/><circle cx="1649.8" cy="227.2" r="1.8" fill="#d8c412"/><circle cx="1639.7" cy="194.1" r="1.7" fill="#eedd20"/><circle cx="1620.8" cy="285.4" r="2.1" fill="#f0e040"/><circle cx="1613.7" cy="232.9" r="1.2" fill="#d8c412"/><circle cx="1637.5" cy="298.7" r="1.5" fill="#e0cc14"/><circle cx="1600.7" cy="236.5" r="2.4" fill="#f2e228"/><circle cx="1663.9" cy="244.2" r="1.6" fill="#b09a18"/><circle cx="1627.4" cy="274.7" r="2.4" fill="#f0e040"/><circle cx="1565.3" cy="332.1" r="1.2" fill="#f0e040"/><circle cx="1664.1" cy="199.7" r="2.4" fill="#f5e630"/><circle cx="1674.1" cy="254" r="1.7" fill="#b09a18"/><circle cx="1624.5" cy="203.3" r="2.4" fill="#d8c412"/><circle cx="1600.7" cy="279.7" r="1.1" fill="#eedd20"/><circle cx="1643" cy="328.8" r="2.3" fill="#eedd20"/><circle cx="1581.3" cy="204.1" r="2.5" fill="#b09a18"/><circle cx="1585.6" cy="211.7" r="1.9" fill="#e0cc14"/><circle cx="1590.1" cy="273.1" r="1.8" fill="#d8c412"/><circle cx="1597.4" cy="252.5" r="1.2" fill="#f5e630"/><circle cx="1603.1" cy="221.5" r="1.5" fill="#f2e228"/><circle cx="1640.3" cy="202.4" r="2.4" fill="#f2e228"/><circle cx="1622.7" cy="310.6" r="2" fill="#f2e228"/><circle cx="1593.9" cy="202.7" r="1.3" fill="#f0e040"/><circle cx="1577.1" cy="287.1" r="2.5" fill="#f5e630"/><circle cx="1678.4" cy="282.9" r="1.6" fill="#d8c412"/><circle cx="1660.9" cy="236.4" r="1.3" fill="#f2e228"/><circle cx="1595.5" cy="330" r="2.6" fill="#d8c412"/><circle cx="1619.1" cy="328.6" r="2.5" fill="#f2e228"/><circle cx="1575.5" cy="252.6" r="2" fill="#f5e630"/><circle cx="1590.1" cy="241" r="1.8" fill="#eedd20"/><circle cx="1577.8" cy="282.6" r="1.8" fill="#e0cc14"/><circle cx="1651" cy="285.3" r="2" fill="#f5e630"/><circle cx="1613.7" cy="286.7" r="2.5" fill="#f5e630"/><circle cx="1603" cy="192.9" r="1.7" fill="#f0e040"/><circle cx="1592.5" cy="272.1" r="1" fill="#eedd20"/><circle cx="1566.1" cy="295" r="1.7" fill="#eedd20"/><circle cx="1587.6" cy="227.4" r="2.2" fill="#eedd20"/><circle cx="1614.5" cy="232.9" r="2.3" fill="#d8c412"/><circle cx="1675.5" cy="304.5" r="2.6" fill="#f2e228"/><circle cx="1602.8" cy="325.9" r="1.2" fill="#d8c412"/><circle cx="1643.5" cy="202.4" r="1.4" fill="#d8c412"/><circle cx="1673.9" cy="329.7" r="1.9" fill="#eedd20"/><circle cx="1630.3" cy="230.2" r="1.7" fill="#b09a18"/><circle cx="1596.1" cy="310" r="1.2" fill="#f5e630"/><circle cx="1591.1" cy="208.8" r="2.6" fill="#f5e630"/><circle cx="1616.2" cy="317.5" r="1.3" fill="#e0cc14"/></g>
<circle cx="1557.7" cy="352.8" r="1.4" fill="#e2d44a" opacity="0.8"/>
<circle cx="1704.9" cy="240.5" r="1.7" fill="#e2d44a" opacity="0.8"/>
<circle cx="1566.5" cy="346.6" r="1.5" fill="#e2d44a" opacity="0.8"/>
<circle cx="1628.7" cy="358.8" r="2.2" fill="#e2d44a" opacity="0.8"/>
<circle cx="1693" cy="288.6" r="1.7" fill="#e2d44a" opacity="0.8"/>
<circle cx="1575.2" cy="149.7" r="2.3" fill="#e2d44a" opacity="0.8"/>
<circle cx="1528.8" cy="298" r="2.3" fill="#e2d44a" opacity="0.8"/>
<circle cx="1538.4" cy="243.6" r="1.9" fill="#e2d44a" opacity="0.8"/>
<circle cx="1691.3" cy="245.4" r="2.2" fill="#e2d44a" opacity="0.8"/>
<circle cx="1660.4" cy="177.9" r="1.8" fill="#e2d44a" opacity="0.8"/>
<circle cx="1681.5" cy="303.3" r="1.8" fill="#e2d44a" opacity="0.8"/>
<circle cx="1562.5" cy="198" r="1.5" fill="#e2d44a" opacity="0.8"/>
<circle cx="1692.9" cy="222" r="1.8" fill="#e2d44a" opacity="0.8"/>
<circle cx="1613.3" cy="152.7" r="1.4" fill="#e2d44a" opacity="0.8"/>
<circle cx="1714.7" cy="298.9" r="1.6" fill="#e2d44a" opacity="0.8"/>
<circle cx="1696" cy="323" r="1.7" fill="#e2d44a" opacity="0.8"/>
<g filter="url(#blur1)"><ellipse cx="1292" cy="336" rx="32" ry="7" fill="#e2d676" opacity="0.8"/><ellipse cx="1355" cy="338" rx="14" ry="5" fill="#e2d676" opacity="0.7"/><ellipse cx="1616" cy="331" rx="20" ry="6" fill="#e6d640"/></g>
<text x="598.4" y="164.3" font-size="59.6" font-weight="normal" text-anchor="start">(a)</text>
<text x="900.9" y="165.7" font-size="61.1" font-weight="normal" text-anchor="start">(b)</text>
<text x="1212.9" y="173.9" font-size="61.1" font-weight="normal" text-anchor="start">(c)</text>
<text x="1508.4" y="176.5" font-size="58.9" font-weight="normal" text-anchor="start">(d)</text>
<g stroke="#000" stroke-width="5" fill="none" stroke-linecap="butt">
<rect x="261.5" y="53" width="1544.0" height="1138"/>
<line x1="261.5" y1="1191" x2="261.5" y2="1215.5"/>
<line x1="390.2" y1="1191" x2="390.2" y2="1204.5"/>
<line x1="518.8" y1="1191" x2="518.8" y2="1215.5"/>
<line x1="647.5" y1="1191" x2="647.5" y2="1204.5"/>
<line x1="776.2" y1="1191" x2="776.2" y2="1215.5"/>
<line x1="904.8" y1="1191" x2="904.8" y2="1204.5"/>
<line x1="1033.5" y1="1191" x2="1033.5" y2="1215.5"/>
<line x1="1162.2" y1="1191" x2="1162.2" y2="1204.5"/>
<line x1="1290.8" y1="1191" x2="1290.8" y2="1215.5"/>
<line x1="1419.5" y1="1191" x2="1419.5" y2="1204.5"/>
<line x1="1548.2" y1="1191" x2="1548.2" y2="1215.5"/>
<line x1="1676.8" y1="1191" x2="1676.8" y2="1204.5"/>
<line x1="1805.5" y1="1191" x2="1805.5" y2="1215.5"/>
<line x1="261.5" y1="1191" x2="236" y2="1191"/>
<line x1="261.5" y1="1077.2" x2="247" y2="1077.2"/>
<line x1="261.5" y1="963.4" x2="236" y2="963.4"/>
<line x1="261.5" y1="849.6" x2="247" y2="849.6"/>
<line x1="261.5" y1="735.8" x2="236" y2="735.8"/>
<line x1="261.5" y1="622" x2="247" y2="622"/>
<line x1="261.5" y1="508.2" x2="236" y2="508.2"/>
<line x1="261.5" y1="394.4" x2="247" y2="394.4"/>
<line x1="261.5" y1="280.6" x2="236" y2="280.6"/>
<line x1="261.5" y1="166.8" x2="247" y2="166.8"/>
<line x1="261.5" y1="53" x2="236" y2="53"/>
</g>
<g stroke="#000" stroke-width="5" fill="none">
<rect x="267.2" y="1405" width="1543.1" height="1137.4"/>
<line x1="267.2" y1="2542.4" x2="267.2" y2="2566.9"/>
<line x1="421.5" y1="2542.4" x2="421.5" y2="2555.9"/>
<line x1="575.8" y1="2542.4" x2="575.8" y2="2566.9"/>
<line x1="730.1" y1="2542.4" x2="730.1" y2="2555.9"/>
<line x1="884.4" y1="2542.4" x2="884.4" y2="2566.9"/>
<line x1="1038.8" y1="2542.4" x2="1038.8" y2="2555.9"/>
<line x1="1193.1" y1="2542.4" x2="1193.1" y2="2566.9"/>
<line x1="1347.4" y1="2542.4" x2="1347.4" y2="2555.9"/>
<line x1="1501.7" y1="2542.4" x2="1501.7" y2="2566.9"/>
<line x1="1656" y1="2542.4" x2="1656" y2="2555.9"/>
<line x1="1810.3" y1="2542.4" x2="1810.3" y2="2566.9"/>
<line x1="267.2" y1="2542.4" x2="241.7" y2="2542.4"/>
<line x1="267.2" y1="2428.7" x2="252.7" y2="2428.7"/>
<line x1="267.2" y1="2314.9" x2="241.7" y2="2314.9"/>
<line x1="267.2" y1="2201.2" x2="252.7" y2="2201.2"/>
<line x1="267.2" y1="2087.4" x2="241.7" y2="2087.4"/>
<line x1="267.2" y1="1973.7" x2="252.7" y2="1973.7"/>
<line x1="267.2" y1="1860" x2="241.7" y2="1860"/>
<line x1="267.2" y1="1746.2" x2="252.7" y2="1746.2"/>
<line x1="267.2" y1="1632.5" x2="241.7" y2="1632.5"/>
<line x1="267.2" y1="1518.7" x2="252.7" y2="1518.7"/>
<line x1="267.2" y1="1405" x2="241.7" y2="1405"/>
</g>
<text x="141.3" y="73.6" font-size="71" font-weight="normal" text-anchor="start">1.0</text>
<text x="141.3" y="304.3" font-size="71" font-weight="normal" text-anchor="start">0.8</text>
<text x="140.7" y="525.7" font-size="71" font-weight="normal" text-anchor="start">0.6</text>
<text x="139.7" y="760.4" font-size="71" font-weight="normal" text-anchor="start">0.4</text>
<text x="142.5" y="987.1" font-size="71" font-weight="normal" text-anchor="start">0.2</text>
<text x="194.5" y="1219.7" font-size="71" font-weight="normal" text-anchor="start">0</text>
<text x="207.9" y="1279.7" font-size="71" font-weight="normal" text-anchor="start">300</text>
<text x="466.2" y="1279.7" font-size="71" font-weight="normal" text-anchor="start">400</text>
<text x="722.2" y="1279.7" font-size="71" font-weight="normal" text-anchor="start">500</text>
<text x="980.1" y="1279.7" font-size="71" font-weight="normal" text-anchor="start">600</text>
<text x="1236.6" y="1279.7" font-size="71" font-weight="normal" text-anchor="start">700</text>
<text x="1494.9" y="1279.7" font-size="71" font-weight="normal" text-anchor="start">800</text>
<text x="1752.5" y="1279.7" font-size="71" font-weight="normal" text-anchor="start">900</text>
<text x="146.5" y="1429.5" font-size="71" font-weight="normal" text-anchor="start">2.0</text>
<text x="146" y="1656" font-size="71" font-weight="normal" text-anchor="start">1.6</text>
<text x="147.8" y="1882.7" font-size="71" font-weight="normal" text-anchor="start">1.2</text>
<text x="143.8" y="2114.9" font-size="71" font-weight="normal" text-anchor="start">0.8</text>
<text x="146.4" y="2335.9" font-size="71" font-weight="normal" text-anchor="start">0.4</text>
<text x="199.8" y="2560.3" font-size="71" font-weight="normal" text-anchor="start">0</text>
<text x="218" y="2622.5" font-size="71" font-weight="normal" text-anchor="start">1.5</text>
<text x="522.3" y="2622.8" font-size="71" font-weight="normal" text-anchor="start">2.0</text>
<text x="835.3" y="2620" font-size="71" font-weight="normal" text-anchor="start">2.5</text>
<text x="1141.8" y="2622.8" font-size="71" font-weight="normal" text-anchor="start">3.0</text>
<text x="1448.9" y="2622.6" font-size="71" font-weight="normal" text-anchor="start">3.5</text>
<text x="1762.1" y="2620.2" font-size="71" font-weight="normal" text-anchor="start">4.0</text>
<text transform="translate(687.2 1358.6) scale(1.009 1)" font-size="92.2" font-weight="bold" text-anchor="start">Wavelength (nm)</text>
<text transform="translate(107.3 871.6) rotate(-90) scale(0.9889 1)" font-size="94" font-weight="bold">Absorbance</text>
<g transform="translate(104.8 2255.5) rotate(-90)" font-weight="bold"><text transform="translate(-4.6 0) scale(1.122 1)" font-size="94">(</text><text transform="translate(25.8 0) scale(1.128 1)" font-size="94">α</text><text transform="translate(85.6 0) scale(0.942 1)" font-size="94">h</text><text transform="translate(139.6 0) scale(1.120 1)" font-size="94">ν</text><text transform="translate(182.4 0) scale(1.122 1)" font-size="94">)</text><text transform="translate(214.4 -27.7) scale(1.017 1)" font-size="61">0.5</text><text transform="translate(314.7 0) scale(1.147 1)" font-size="94">(</text><text transform="translate(347 0) scale(1.020 1)" font-size="94">e</text><text x="387.4" y="0" font-size="94">V</text><text transform="translate(452.1 0) scale(1.122 1)" font-size="94">)</text><text transform="translate(484 -27.7) scale(1.061 1)" font-size="61">0.5</text></g>
<g transform="translate(0 2705.8)" font-weight="bold"><text transform="translate(890.9 0) scale(0.969 1)" font-size="93">h</text><text transform="translate(944.8 0) scale(1.122 1)" font-size="93">ν</text><text transform="translate(1011.3 0) scale(1.227 1)" font-size="93">(</text><text transform="translate(1045.5 0) scale(0.989 1)" font-size="93">e</text><text x="1084.9" y="0" font-size="93">V</text><text transform="translate(1147.9 0) scale(1.222 1)" font-size="93">)</text></g>
<text transform="translate(287.1 137.9) scale(1.048 1)" font-size="69.8" font-weight="normal" text-anchor="start">(A)</text>
<text x="298.1" y="1489.2" font-size="71.1" font-weight="normal" text-anchor="start">(B)</text>
<line x1="331" y1="683.6" x2="473" y2="683.6" stroke="#000" stroke-width="5"/>
<text x="484.7" y="702.4" font-size="59" font-weight="normal" text-anchor="start">(a)</text>
<line x1="331" y1="759.1" x2="473" y2="759.1" stroke="#f00" stroke-width="5"/>
<text x="484.7" y="777.9" font-size="59" font-weight="normal" text-anchor="start">(b)</text>
<line x1="331" y1="835.4" x2="473" y2="835.4" stroke="#0f0" stroke-width="5"/>
<text x="484.7" y="854.2" font-size="59" font-weight="normal" text-anchor="start">(c)</text>
<line x1="331" y1="909.8" x2="473" y2="909.8" stroke="#00f" stroke-width="5"/>
<text x="484.7" y="928.6" font-size="59" font-weight="normal" text-anchor="start">(d)</text>
<line x1="331" y1="1565.7" x2="473" y2="1565.7" stroke="#000" stroke-width="5"/>
<text x="483.9" y="1584.5" font-size="59" font-weight="normal" text-anchor="start">(a)</text>
<line x1="331" y1="1641.1" x2="473" y2="1641.1" stroke="#f00" stroke-width="5"/>
<text x="483.9" y="1659.9" font-size="59" font-weight="normal" text-anchor="start">(b)</text>
<line x1="331" y1="1717.7" x2="473" y2="1717.7" stroke="#0f0" stroke-width="5"/>
<text x="483.9" y="1736.5" font-size="59" font-weight="normal" text-anchor="start">(c)</text>
<line x1="331" y1="1793.6" x2="473" y2="1793.6" stroke="#00f" stroke-width="5"/>
<text x="483.9" y="1812.4" font-size="59" font-weight="normal" text-anchor="start">(d)</text>
<g fill="none" stroke-width="4.7" stroke-linejoin="round" stroke-linecap="butt">
<path d="M261.3 468.4 C271.8 464.7 282.4 459.4 292.9 457.3 C304.5 455 316 454 327.6 452.6 C337.1 451.4 346.5 449.9 356 449.4 C372.8 448.6 389.6 449 406.4 447.9 C410.6 447.6 414.8 443.4 419 443.1 C433.7 441.9 448.5 442.2 463.2 441.5 C477.9 440.8 492.7 439 507.4 439 C521.1 439 534.7 439.5 548.4 440 C554.7 440.3 561 441.5 567.3 441.5 C575.7 441.5 584.1 436.6 592.5 435.9 C607.2 434.6 622 433.7 636.7 433.7 C644.5 433.7 652.2 434.9 660 435.1 C669.6 435.3 679.1 435.2 688.7 435.5 C690 435.5 691.2 436.3 692.5 436.7 C695.9 437.8 699.2 438.5 702.6 440.1 C705.2 441.3 707.7 443.6 710.3 445.6 C712.9 447.7 715.5 450 718.1 452.5 C720.7 454.9 723.2 457.9 725.8 460.3 C728.4 462.8 731 464.7 733.6 467.3 C736.2 469.8 738.7 472.7 741.3 475.8 C743 477.9 744.8 480 746.5 482.5 C748.6 485.5 750.6 489.1 752.7 493 C755.2 497.8 757.7 503 760.2 509.5 C762.1 514.5 764.1 521.4 766 527.3 C767.4 531.6 768.8 535.5 770.2 540 C771.6 544.7 773.1 549.5 774.5 555.1 C775.7 559.6 776.8 564.3 778 570.1 C779 575 780 581.7 781 587.4 C782 593.1 783 599.6 784 604.6 C784.9 609.3 785.9 612.8 786.8 617.2 C788.4 624.6 789.9 633 791.5 640.9 C793.1 648.8 794.6 656.7 796.2 664.5 C797.8 672.5 799.4 679.1 801 688.2 C802.4 696.4 803.9 708 805.3 717.1 C806.8 726.6 808.3 735.2 809.8 744.2 C811.3 753.2 812.8 763.1 814.3 771.3 C815.8 779.5 817.3 786.4 818.8 793.9 C820.3 801.5 821.9 809.6 823.4 816.5 C825.2 824.6 827 831.5 828.8 839 C830.6 846.5 832.4 854.2 834.2 861.6 C835.7 867.8 837.2 874.7 838.7 880 C840.6 886.6 842.4 891 844.3 897.5 C846.2 904.1 848.1 913.9 850 919.7 C852.3 926.7 854.5 931.7 856.8 936.8 C859.1 941.9 861.3 945.7 863.6 950.4 C865.9 955.1 868.1 961.1 870.4 965.2 C873.4 970.6 876.5 974.9 879.5 978.8 C883.3 983.6 887 987.8 890.8 991.3 C894.6 994.8 898.4 998.1 902.2 1000.4 C906 1002.7 909.8 1004.1 913.6 1006 C917.4 1007.9 921.1 1010.3 924.9 1011.7 C930.6 1013.7 936.2 1015.8 941.9 1016.3 C954.6 1017.4 967.3 1017.5 980 1018 C986.7 1018.3 993.3 1018.7 1000 1018.7 C1107.7 1018.8 1215.3 1018.8 1323 1018.8 C1324 1018.8 1325 1016.2 1326 1016.2 C1350.7 1016.2 1375.3 1016.2 1400 1016.2 C1419.8 1016.2 1439.7 1016.1 1459.5 1014.9 C1460.3 1014.8 1461.2 1012.3 1462 1012.3 C1486.2 1012.3 1510.3 1012.3 1534.5 1012.3 C1535.3 1012.3 1536.2 1009.7 1537 1009.7 C1570.7 1008.6 1604.3 1009.2 1638 1008.5 C1652.7 1008.2 1667.3 1006.4 1682 1005.9 C1703.5 1005.2 1725.1 1005.5 1746.6 1004.6 C1752.6 1004.4 1758.7 1002 1764.7 1002 C1778.1 1002 1791.6 1002 1805 1002" stroke="#000"/>
<path d="M261.3 473 C276 470.4 290.8 467.3 305.5 465.2 C345.4 459.6 385.4 452 425.3 452 C431.6 452 438 453.8 444.3 454.2 C475.8 456 507.4 455.3 538.9 457.3 C546.3 457.8 553.6 461.1 561 461.1 C569.4 461.1 577.8 456.9 586.2 456.7 C610.8 456.2 635.4 456 660 456 C667.7 456 675.5 456 683.2 456 C685.8 456 688.4 458.2 691 459.5 C693.6 460.8 696.1 462.5 698.7 464.2 C701.3 465.9 703.9 467.2 706.5 469.6 C709.1 472 711.6 476.8 714.2 480.4 C716.8 484 719.4 487.2 722 491.3 C724.6 495.3 727.1 501 729.7 505.2 C732.3 509.4 734.9 512.6 737.5 516.8 C739.8 520.6 742.2 524.6 744.5 529 C746.3 532.4 748.2 535.9 750 540 C751.7 543.8 753.4 548 755.1 552.9 C756.8 557.9 758.6 563 760.3 570.1 C761.4 574.7 762.6 582.3 763.7 587.4 C765.1 593.8 766.6 598.3 768 604.6 C769.2 609.8 770.3 616.6 771.5 621.8 C772.9 628.1 774.4 632.6 775.8 639 C776.9 643.8 777.9 649.3 779 655 C779.8 659.5 780.7 664.6 781.5 669.3 C782.6 675.7 783.8 681.2 784.9 688.2 C786.3 696.7 787.6 709.1 789 717.1 C790.8 727.8 792.7 735.1 794.5 744.2 C796.3 753.2 798.1 762.3 799.9 771.3 C801.4 778.8 802.9 787 804.4 793.9 C806.2 802.1 808 808.3 809.8 816.5 C811.3 823.4 812.8 830.6 814.3 839 C815.5 845.7 816.7 855 817.9 861.6 C819.4 870.1 821 877.6 822.5 884.2 C824.1 891.1 825.7 896.5 827.3 902.7 C829.6 911.4 831.8 920.1 834.1 928.8 C836 936 837.8 943.9 839.7 950.4 C841.6 957 843.5 963.9 845.4 968.6 C847.7 974.2 849.9 977.7 852.2 982.2 C854.5 986.7 856.7 991.6 859 995.8 C862 1001.5 865.1 1007.5 868.1 1011.7 C870.4 1014.9 872.7 1017.2 875 1019.7 C880 1025.2 885 1031.2 890 1035 C895 1038.8 900 1042 905 1044 C911.7 1046.7 918.3 1049.2 925 1050 C950 1053.1 975 1055 1000 1055 C1066.7 1055 1133.3 1053.8 1200 1053 C1283.9 1051.9 1367.8 1049.3 1451.7 1048.5 C1482.8 1048.2 1513.8 1047.8 1544.9 1047.8 C1556.9 1047.8 1569 1049.8 1581 1049.8 C1589.7 1049.8 1598.3 1047.5 1607 1046 C1611.3 1045.3 1615.6 1043.4 1619.9 1043.4 C1650.1 1043.4 1680.2 1043.6 1710.4 1044.1 C1717.3 1044.2 1724.2 1047.3 1731.1 1047.3 C1737.1 1047.3 1743.2 1045.7 1749.2 1044.7 C1756.1 1043.6 1763 1040.8 1769.9 1040.8 C1781.6 1040.8 1793.3 1041.7 1805 1042.1" stroke="#f00"/>
<path d="M261.3 468.4 C280.2 466.8 299.1 465.5 318 463.6 C325.3 462.9 332.7 462 340 461 C348.5 459.9 356.9 457.3 365.4 457.3 C375.9 457.3 386.5 461.1 397 461.1 C407.5 461.1 418 455.7 428.5 455.7 C444.3 455.7 460 458.9 475.8 460.5 C491.5 462.1 507.3 462.9 523 465.2 C533.6 466.7 544.1 471.5 554.7 473 C560 473.8 565.2 474.7 570.5 474.7 C600.3 474.7 630.2 472.7 660 472.7 C663.9 472.7 667.7 473 671.6 473.4 C675.5 473.8 679.3 475.7 683.2 477.3 C687.1 478.9 691 481.3 694.9 483.5 C697.5 485 700 486.1 702.6 488.2 C705.2 490.3 707.7 493.2 710.3 497.5 C712.1 500.6 714 507.4 715.8 511.4 C717.9 515.9 719.9 519.3 722 523 C724.6 527.7 727.1 531.8 729.7 536.5 C732.2 541 734.6 546.2 737.1 550.8 C739.1 554.5 741.1 557.8 743.1 561.5 C745 565 746.8 568.2 748.7 572.3 C750.1 575.4 751.6 579.1 753 583 C754.4 586.9 755.9 591.2 757.3 596 C758.4 599.8 759.6 604.3 760.7 608.9 C761.7 612.9 762.7 617.5 763.7 621.8 C764.9 626.8 766 632 767.2 636.9 C768.7 643.1 770.1 649.2 771.6 655.1 C773.2 661.6 774.8 666.2 776.4 674 C777.8 680.6 779.1 692.2 780.5 699.5 C782.4 709.8 784.4 716.8 786.3 726.1 C788.1 734.7 789.9 744.2 791.7 753.2 C793.5 762.3 795.4 771.2 797.2 780.3 C799 789.3 800.8 799 802.6 807.4 C804.7 817.1 806.8 823.9 808.9 834.5 C810.4 842.1 811.9 853.3 813.4 861.6 C814.6 868.2 815.8 874.6 817 880 C818.9 888.6 820.8 895.4 822.7 902.7 C825 911.4 827.2 919.9 829.5 927.7 C832.2 936.9 834.8 945.7 837.5 953.8 C840.1 961.8 842.8 970.3 845.4 976.5 C848.4 983.7 851.5 989.6 854.5 994.7 C857.9 1000.4 861.3 1005 864.7 1009.5 C869.6 1016.1 874.6 1022.2 879.5 1027.6 C883.3 1031.7 887 1036.5 890.8 1039 C895.4 1042.1 899.9 1044.1 904.5 1045.8 C909.4 1047.7 914.3 1049.1 919.2 1050.3 C924.9 1051.7 930.6 1053.4 936.3 1053.7 C950.9 1054.4 965.4 1054.4 980 1054.8 C986.7 1055 993.3 1055.5 1000 1055.5 C1133.3 1055.5 1266.7 1055.5 1400 1055.5 C1453.3 1055.5 1506.7 1055.4 1560 1055 C1580 1054.9 1600 1052.4 1620 1052 C1646.7 1051.5 1673.3 1051.6 1700 1051 C1720 1050.6 1740 1048.2 1760 1047 C1775 1046.1 1790 1045.5 1805 1044.7" stroke="#0f0"/>
<path d="M261.3 468.4 C280.2 466.8 299.1 463.6 318 463.6 C339 463.6 360 463.8 381 464.3 C386.3 464.4 391.7 467.4 397 467.4 C401.2 467.4 405.4 466.6 409.6 466 C415.9 465.1 422.2 462 428.5 462 C433.8 462 439 464.3 444.3 465.2 C460.1 467.8 475.8 469.2 491.6 471.5 C507.4 473.8 523.1 475.4 538.9 479.4 C544.2 480.7 549.4 485.7 554.7 485.7 C589.8 485.8 624.9 485.7 660 485.8 C662.6 485.8 665.1 486.8 667.7 487.4 C671.6 488.4 675.5 489.8 679.4 491.3 C683.3 492.8 687.1 494.3 691 496.7 C693.6 498.3 696.1 501.1 698.7 503.7 C701.3 506.4 703.9 509.5 706.5 513 C709.1 516.4 711.6 520.2 714.2 524.6 C716.3 528.2 718.3 532.8 720.4 537 C722.2 540.8 724.1 544.2 725.9 548.6 C727.5 552.3 729 557.4 730.6 561.5 C732.3 566 734.1 570.3 735.8 574.4 C737.4 578.1 738.9 581.3 740.5 585.2 C741.8 588.5 743.1 592.4 744.4 596 C746 600.3 747.5 604.8 749.1 608.9 C750.8 613.4 752.6 617.5 754.3 621.8 C756 626.1 757.7 629.8 759.4 634.7 C760.4 637.7 761.5 641.1 762.5 645 C764 650.5 765.4 657.6 766.9 664.5 C768.2 670.5 769.4 676.6 770.7 683.5 C771.6 688.6 772.6 695.2 773.5 699.9 C774.8 706.6 776.2 710.7 777.5 717 C780.7 732.4 784 754.4 787.2 771.3 C789.3 782.4 791.5 792.3 793.6 802.9 C795.4 811.9 797.2 821.8 799 830 C800.8 838.2 802.6 844.4 804.4 852.6 C806.2 860.8 808 872 809.8 879.7 C811.9 888.5 813.9 895 816 902.7 C818.2 911 820.5 919.9 822.7 927.7 C825.4 937 828 946.2 830.7 953.8 C833.7 962.4 836.7 970 839.7 976.5 C843.1 983.9 846.6 990.5 850 995.8 C853.8 1001.6 857.5 1006.1 861.3 1010.6 C865.5 1015.6 869.6 1020.9 873.8 1024.2 C878.7 1028.1 883.7 1030.8 888.6 1033.3 C893.1 1035.6 897.7 1037.5 902.2 1039 C907.9 1040.9 913.5 1042.3 919.2 1043.5 C924.9 1044.7 930.6 1045.9 936.3 1046.4 C950.9 1047.6 965.4 1047.6 980 1048.5 C986.7 1048.9 993.3 1050 1000 1050 C1133.3 1051 1266.7 1051.1 1400 1051.1 C1443.1 1051.1 1486.2 1051.1 1529.3 1051.1 C1546.5 1051.1 1563.8 1052 1581 1053.7 C1584.5 1054 1587.9 1056.3 1591.4 1056.3 C1596.6 1056.3 1601.8 1053.7 1607 1052.4 C1613.9 1050.7 1620.7 1047.3 1627.6 1047.3 C1638 1047.3 1648.3 1047.3 1658.7 1047.3 C1667.3 1047.3 1675.9 1050.6 1684.5 1051.1 C1697.4 1051.8 1710.4 1051.7 1723.3 1052.4 C1727.6 1052.6 1732 1053.7 1736.3 1053.7 C1740.6 1053.7 1744.9 1052.2 1749.2 1051.1 C1753.5 1050 1757.8 1046 1762.1 1046 C1770.7 1046 1779.4 1046.8 1788 1047.3 C1793.7 1047.6 1799.3 1048.1 1805 1048.5" stroke="#00f"/>
</g>
<g fill="none" stroke-width="4.7" stroke-linejoin="round" stroke-linecap="butt">
<path d="M267.6 2520.5 C328.1 2520.3 388.5 2520.5 449 2520 C450 2520 451 2517.3 452 2517.3 C483.7 2517.3 515.3 2517.3 547 2517.3 C548 2517.3 549 2515.8 550 2515.8 C568.3 2515.8 586.7 2515.8 605 2515.8 C606 2515.8 607 2513.9 608 2513.9 C632.7 2513.9 657.3 2513.9 682 2513.9 C683 2513.9 684 2511.8 685 2511.7 C696 2511.1 707 2511.5 718 2511 C721.5 2510.8 725.1 2507.3 728.6 2506 C735.2 2503.6 741.7 2502.9 748.3 2500.4 C752.7 2498.8 757.1 2496.9 761.5 2493.6 C763.6 2492.1 765.6 2488.8 767.7 2486.4 C770.3 2483.3 772.9 2480.2 775.5 2477.1 C778.1 2474 780.6 2470.8 783.2 2467.8 C785.5 2465.2 787.7 2463.2 790 2460.1 C792.1 2457.3 794.1 2453.5 796.2 2449.7 C797.9 2446.6 799.6 2443.5 801.3 2439.4 C802.5 2436.5 803.7 2432.8 804.9 2429.1 C805.9 2425.9 807 2422.5 808 2418.7 C808.9 2415.5 809.7 2411.3 810.6 2408.4 C811.8 2404.4 813 2402 814.2 2398.1 C815 2395.4 815.9 2391.6 816.7 2388.7 C819.1 2380.3 821.6 2375.7 824 2366.3 C825.5 2360.5 827 2351 828.5 2343.9 C830.2 2336.1 831.8 2330 833.5 2321.6 C834.8 2315 836.1 2306.2 837.4 2299.2 C838.7 2292.2 840 2285.2 841.3 2279.6 C842.8 2273.2 844.3 2269.1 845.8 2262.8 C847.4 2256.2 848.9 2247.5 850.5 2240 C852 2232.8 853.5 2227.3 855 2218.8 C856.6 2209.7 858.2 2195.7 859.8 2184.4 C861.2 2174.5 862.6 2164.5 864 2155 C867.5 2131.5 870.9 2106.6 874.4 2087.1 C877.9 2067.6 881.3 2048.2 884.8 2035.5 C888.8 2020.8 892.8 2011.1 896.8 2001 C902 1988 907.1 1975.9 912.3 1966.6 C918 1956.3 923.8 1949.9 929.5 1940.8 C935.2 1931.7 941 1920.3 946.7 1911.5 C952.5 1902.7 958.2 1893.2 964 1887.4 C971.4 1879.9 978.9 1873.7 986.3 1870.2 C994.9 1866.2 1003.6 1864.8 1012.2 1861.6 C1018.1 1859.4 1024.1 1856.3 1030 1854.1 C1040.5 1850.2 1051 1847.4 1061.5 1844 C1072 1840.6 1082.6 1837.4 1093.1 1833.9 C1105.4 1829.8 1117.7 1825.2 1130 1821.3 C1142.8 1817.2 1155.6 1814.5 1168.4 1809.8 C1177.7 1806.4 1186.9 1801.6 1196.2 1797.2 C1204.6 1793.2 1213 1788.4 1221.4 1784.6 C1234 1779 1246.7 1774.1 1259.3 1769.5 C1271.9 1764.9 1284.5 1761.4 1297.1 1756.8 C1309.7 1752.2 1322.4 1745.8 1335 1741.7 C1351.8 1736.2 1368.7 1733.5 1385.5 1727.8 C1399.8 1722.9 1414.1 1713.4 1428.4 1708.9 C1435.1 1706.8 1441.8 1704.6 1448.5 1703.8 C1461.4 1702.2 1474.4 1702.4 1487.3 1700.8 C1497.1 1699.6 1507 1696 1516.8 1692.9 C1528.1 1689.3 1539.5 1684 1550.8 1679.2 C1558.4 1676 1566 1671.8 1573.6 1669 C1588.7 1663.4 1603.9 1660.1 1619 1655.4 C1634.1 1650.7 1649.3 1645.1 1664.4 1640.6 C1679.5 1636.1 1694.7 1632.3 1709.8 1628.1 C1725 1623.9 1740.1 1619.1 1755.3 1615.6 C1766.6 1613 1778 1611 1789.3 1608.8 C1796.2 1607.5 1803.1 1606.3 1810 1605" stroke="#000"/>
<path d="M267.6 2529 C411.7 2528.3 555.9 2528.8 700 2527 C711.7 2526.9 723.3 2524.5 735 2522 C740.7 2520.8 746.3 2518.4 752 2516 C756.8 2514 761.6 2511 766.4 2508.6 C771.9 2505.8 777.3 2503.3 782.8 2500.4 C785.9 2498.8 788.9 2497.7 792 2495.2 C795.1 2492.6 798.2 2485.7 801.3 2480.7 C803.9 2476.5 806.5 2472.6 809.1 2467.8 C812 2462.4 815 2457.2 817.9 2449.7 C819.3 2446.2 820.6 2441.1 822 2436.8 C823.4 2432.5 824.7 2428.3 826.1 2423.9 C827.7 2418.9 829.2 2413.4 830.8 2408.4 C832.2 2404 833.5 2400.6 834.9 2395.5 C835.8 2392.3 836.6 2387.6 837.5 2384 C839.5 2375.6 841.6 2368.6 843.6 2360.7 C845.5 2353.4 847.3 2345.7 849.2 2338.3 C851.1 2330.9 852.9 2325.2 854.8 2316 C856.3 2308.7 857.7 2297.3 859.2 2288 C860.5 2279.6 861.9 2270.5 863.2 2262.8 C864.6 2254.5 866.1 2248 867.5 2240 C870.1 2225.4 872.7 2207.2 875.3 2193 C878.2 2177.3 881 2164.1 883.9 2150 C887.6 2131.6 891.4 2110.4 895.1 2095.7 C898.5 2082.2 902 2070.3 905.4 2061.3 C910 2049.2 914.6 2042.7 919.2 2032 C923.2 2022.6 927.3 2010.7 931.3 2001 C936.4 1988.7 941.6 1977.8 946.7 1966.6 C951.3 1956.6 955.9 1945.2 960.5 1937.3 C965.7 1928.4 970.8 1920 976 1915 C982.3 1908.8 988.7 1904.3 995 1901.2 C1006.7 1895.4 1018.3 1892.6 1030 1888.8 C1040.5 1885.4 1051 1882.5 1061.5 1879.3 C1072 1876.1 1082.6 1873.7 1093.1 1869.8 C1105.4 1865.3 1117.7 1854.3 1130 1852.2 C1136.1 1851.2 1142.1 1851.1 1148.2 1850.2 C1155.8 1849.1 1163.4 1847.6 1171 1845.2 C1179.4 1842.5 1187.8 1834.5 1196.2 1830 C1208.8 1823.3 1221.4 1818.5 1234 1812.4 C1242.4 1808.3 1250.9 1803.1 1259.3 1799.7 C1271.9 1794.6 1284.5 1791.7 1297.1 1787.1 C1309.7 1782.5 1322.4 1776.7 1335 1772 C1351.8 1765.7 1368.7 1761.2 1385.5 1754.3 C1402.3 1747.4 1419.1 1732.5 1435.9 1729.1 C1443.9 1727.5 1452 1726.7 1460 1725.8 C1471.4 1724.5 1482.7 1724 1494.1 1722.4 C1505.4 1720.8 1516.8 1717.8 1528.1 1714.4 C1543.3 1709.8 1558.4 1700 1573.6 1694 C1588.7 1688 1603.9 1683.6 1619 1678.1 C1634.1 1672.6 1649.3 1665.9 1664.4 1661.1 C1679.5 1656.3 1694.7 1652.9 1709.8 1648.6 C1725 1644.3 1740.1 1638.3 1755.3 1635 C1773.5 1631.1 1791.8 1628.9 1810 1625.9" stroke="#f00"/>
<path d="M267.6 2530.5 C371.7 2530.3 475.9 2530.5 580 2530 C581 2530 582 2527.6 583 2527.6 C622 2527 661 2527.5 700 2527 C708.3 2526.9 716.7 2525.9 725 2525 C731.7 2524.3 738.3 2523 745 2521.7 C749.9 2520.8 754.9 2520.2 759.8 2518.4 C764.7 2516.6 769.7 2508.4 774.6 2505.3 C778.1 2503.1 781.5 2501.6 785 2500 C788.7 2498.3 792.5 2497.8 796.2 2495.2 C799.1 2493.2 802 2485.5 804.9 2480.7 C808 2475.5 811.1 2470.8 814.2 2465.2 C816.8 2460.5 819.4 2455.5 822 2449.7 C823.7 2445.9 825.4 2441.5 827.1 2436.8 C828.5 2432.9 829.9 2428.5 831.3 2423.9 C832.5 2419.9 833.7 2415.3 834.9 2411 C836.1 2406.7 837.3 2402.3 838.5 2398.1 C839.4 2394.9 840.4 2392.1 841.3 2388.7 C843.6 2380.4 845.8 2371.1 848.1 2360.7 C849.6 2354 851 2344.9 852.5 2338.3 C854.4 2329.9 856.2 2324.6 858.1 2316 C859.8 2308.1 861.5 2295.4 863.2 2288 C865.6 2277.6 868 2272.7 870.4 2262.8 C872.3 2255.1 874.1 2242.2 876 2235 C878.1 2227 880.1 2223.4 882.2 2215.4 C886.2 2199.8 890.3 2166.1 894.3 2150 C899.2 2130.6 904 2119.7 908.9 2104.4 C913.5 2090.1 918 2074.6 922.6 2061.3 C928.4 2044.5 934.1 2029.1 939.9 2014.8 C945.6 2000.6 951.4 1985.6 957.1 1975.2 C962.8 1964.8 968.6 1955.6 974.3 1949.4 C981.2 1942 988.1 1935.6 995 1932.2 C1000.7 1929.4 1006.5 1927.8 1012.2 1926 C1018.1 1924.1 1024.1 1922.9 1030 1921 C1040.5 1917.7 1051 1913.5 1061.5 1909.6 C1072 1905.7 1082.6 1902 1093.1 1897.6 C1105.4 1892.5 1117.7 1884.3 1130 1880.6 C1139.4 1877.8 1148.9 1877.1 1158.3 1874.2 C1166.7 1871.6 1175.2 1867.3 1183.6 1862.8 C1196.2 1856.1 1208.8 1844.8 1221.4 1837.6 C1238.2 1827.9 1255.1 1820.5 1271.9 1812.4 C1284.5 1806.3 1297.1 1800.6 1309.7 1794.7 C1322.3 1788.8 1335 1782.9 1347.6 1777 C1360.2 1771.1 1372.9 1765.5 1385.5 1759.4 C1402.3 1751.3 1419.1 1738.7 1435.9 1734.1 C1443.9 1731.9 1452 1730.5 1460 1729.2 C1471.4 1727.4 1482.7 1727 1494.1 1724.7 C1505.4 1722.4 1516.8 1714.9 1528.1 1709.9 C1543.3 1703.2 1558.4 1695.5 1573.6 1689.5 C1588.7 1683.5 1603.9 1679.3 1619 1673.6 C1634.1 1667.9 1649.3 1660.6 1664.4 1655.4 C1679.5 1650.2 1694.7 1645.9 1709.8 1641.8 C1725 1637.7 1740.1 1633.5 1755.3 1630.4 C1773.5 1626.7 1791.8 1624.3 1810 1621.3" stroke="#0f0"/>
<path d="M267.6 2528.8 C347.4 2528.6 427.2 2528.8 507 2528.1 C508 2528.1 509 2524.9 510 2524.9 C532.3 2524.9 554.7 2524.9 577 2524.9 C578 2524.9 579 2523 580 2523 C609.3 2523 638.7 2523 668 2523 C669 2523 670 2520.7 671 2520.6 C687.5 2519.6 703.9 2520.2 720.4 2519.5 C726.4 2519.2 732.5 2517.8 738.5 2516.8 C743.4 2516 748.4 2515.3 753.3 2514.3 C757.7 2513.4 762 2512.5 766.4 2511 C770.2 2509.7 774.1 2507.3 777.9 2505.3 C782.3 2503 786.6 2500.8 791 2498.2 C794.2 2496.3 797.3 2494.5 800.5 2492 C803.4 2489.7 806.2 2487 809.1 2483.3 C812.5 2478.9 816 2471.7 819.4 2465.2 C822 2460.4 824.5 2455.4 827.1 2449.7 C829.2 2445.1 831.2 2439.9 833.3 2434.2 C834.7 2430.3 836.1 2426.3 837.5 2421.3 C838.3 2418.3 839.2 2413.8 840 2411 C842.9 2401.5 845.7 2399.2 848.6 2388.7 C850.3 2382.6 851.9 2368.5 853.6 2360.7 C855.5 2352 857.3 2345.7 859.2 2338.3 C861.1 2330.9 862.9 2323.4 864.8 2316 C866.7 2308.6 868.5 2302.3 870.4 2293.6 C872.1 2285.7 873.8 2274.2 875.5 2265.6 C877.3 2256.4 879.2 2246.8 881 2240 C883.7 2229.9 886.4 2224.5 889.1 2215.4 C894 2198.9 898.8 2175.9 903.7 2158 C908.9 2139 914 2118.4 919.2 2104.4 C924.4 2090.4 929.5 2082.7 934.7 2069.9 C939.9 2057.1 945 2039.3 950.2 2026.9 C954.8 2015.9 959.4 2005.1 964 1997.6 C969.7 1988.3 975.5 1981.4 981.2 1975.2 C988.7 1967.1 996.1 1958.9 1003.6 1954.6 C1012.4 1949.5 1021.2 1947.2 1030 1943.7 C1040.5 1939.5 1051 1935.6 1061.5 1931.7 C1072 1927.8 1082.6 1924.4 1093.1 1920.3 C1105.4 1915.5 1117.7 1908.5 1130 1904.5 C1141.1 1900.9 1152.3 1899.6 1163.4 1895.6 C1170.1 1893.2 1176.9 1889.4 1183.6 1885.6 C1196.2 1878.5 1208.8 1867.9 1221.4 1860.3 C1238.2 1850.1 1255.1 1841.4 1271.9 1832.6 C1288.7 1823.8 1305.6 1815.2 1322.4 1807.3 C1343.4 1797.4 1364.5 1790.7 1385.5 1779.6 C1399.8 1772 1414.1 1758.4 1428.4 1751.8 C1435.1 1748.7 1441.8 1745.4 1448.5 1744.2 C1452.3 1743.5 1456.2 1743.3 1460 1742.8 C1469.8 1741.5 1479.7 1740.5 1489.5 1738.3 C1502.4 1735.4 1515.2 1725.4 1528.1 1719 C1543.3 1711.4 1558.4 1702.5 1573.6 1696.3 C1588.7 1690.1 1603.9 1686.4 1619 1680.4 C1634.1 1674.4 1649.3 1665.4 1664.4 1659.9 C1679.5 1654.4 1694.7 1651.2 1709.8 1646.3 C1725 1641.4 1740.1 1634.8 1755.3 1630.4 C1773.5 1625.1 1791.8 1621.3 1810 1616.8" stroke="#00f"/>
</g>
<g fill="none" stroke-width="2.2" stroke-dasharray="13 7">
<line x1="786.8" y1="2542.4" x2="935.6" y2="1815.9" stroke="#ff6a6a"/>
<line x1="793.5" y1="2549" x2="971.2" y2="1752.3" stroke="#5050ff"/>
<line x1="801" y1="2542.4" x2="1000.7" y2="1693.3" stroke="#86b2de"/>
<line x1="807.5" y1="2542.4" x2="1037" y2="1626.6" stroke="#ff50ff"/>
</g>
</svg></body></html>
